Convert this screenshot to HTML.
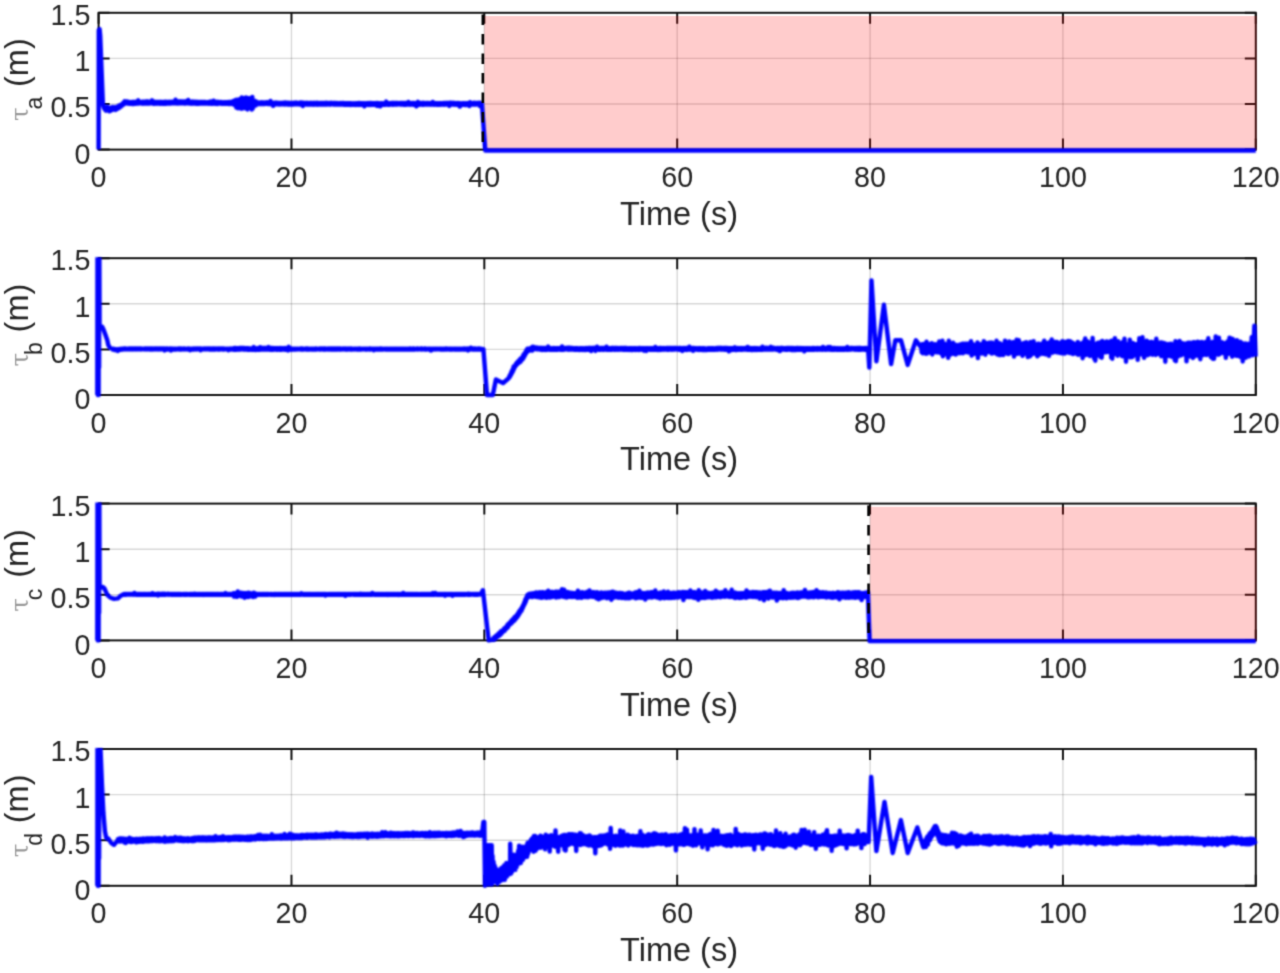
<!DOCTYPE html><html><head><meta charset="utf-8"><style>html,body{margin:0;padding:0;background:#fff;}svg{display:block}text{font-family:"Liberation Sans",Arial,sans-serif;fill:#262626}</style></head><body>
<svg width="1280" height="973" viewBox="0 0 1280 973">
<defs><filter id="bl" color-interpolation-filters="sRGB" filterUnits="userSpaceOnUse" x="0" y="0" width="1280" height="973"><feConvolveMatrix order="3" kernelMatrix="1 4 1 4 16 4 1 4 1" divisor="36" edgeMode="duplicate"/></filter><filter id="bd" color-interpolation-filters="sRGB" filterUnits="userSpaceOnUse" x="0" y="0" width="1280" height="973"><feConvolveMatrix order="3" kernelMatrix="1 2 1 2 4 2 1 2 1" divisor="16" edgeMode="duplicate"/></filter></defs>
<rect width="1280" height="973" fill="#fff"/>
<g filter="url(#bl)">
<path d="M291.47 12.80V149.60M484.33 12.80V149.60M677.20 12.80V149.60M870.07 12.80V149.60M1062.93 12.80V149.60" stroke="#262626" stroke-opacity="0.18" stroke-width="1.4" fill="none"/>
<path d="M98.60 104.00H1255.80M98.60 58.40H1255.80" stroke="#262626" stroke-opacity="0.18" stroke-width="1.4" fill="none"/>
<path d="M98.60 149.60v-11.0M98.60 12.80v11.0M291.47 149.60v-11.0M291.47 12.80v11.0M484.33 149.60v-11.0M484.33 12.80v11.0M677.20 149.60v-11.0M677.20 12.80v11.0M870.07 149.60v-11.0M870.07 12.80v11.0M1062.93 149.60v-11.0M1062.93 12.80v11.0M1255.80 149.60v-11.0M1255.80 12.80v11.0M98.60 149.60h11.0M1255.80 149.60h-11.0M98.60 104.00h11.0M1255.80 104.00h-11.0M98.60 58.40h11.0M1255.80 58.40h-11.0M98.60 12.80h11.0M1255.80 12.80h-11.0" stroke="#141414" stroke-width="2" fill="none"/>
<rect x="98.60" y="12.80" width="1157.20" height="136.80" stroke="#141414" stroke-width="2" fill="none"/>
<rect x="484.43" y="16.00" width="772.37" height="134.60" fill="#ff0000" fill-opacity="0.2"/>
<clipPath id="c0"><rect x="93.60" y="11.80" width="1164.20" height="141.80"/></clipPath>
<g filter="url(#bd)"><g clip-path="url(#c0)"><path d="M98.6 149.6L98.8 30.1L99.6 29.2L100.2 35.6L102.9 104.0L103.4 106.7L103.4 105.4L104.0 108.2L104.5 106.7L105.0 109.5L105.5 108.0L106.1 110.7L106.6 106.6L107.1 108.6L107.7 106.6L108.2 109.7L108.7 108.4L109.3 111.3L109.8 108.6L110.3 110.8L110.8 108.1L111.4 110.1L111.9 107.3L112.4 109.9L113.0 107.1L113.5 109.6L114.0 107.6L114.6 109.5L115.1 107.3L115.6 109.9L116.2 107.1L116.7 109.3L117.2 106.9L117.7 108.7L118.3 106.1L118.8 108.2L119.3 105.6L119.9 107.4L120.4 104.9L120.9 106.6L121.5 104.4L122.0 105.6L122.5 103.5L123.0 104.9L123.6 102.6L124.1 104.1L124.6 101.3L125.2 103.3L125.6 102.2L125.6 101.4L126.1 103.0L126.7 101.4L127.2 103.4L127.7 101.6L128.3 103.5L128.8 101.9L129.3 103.7L129.8 102.2L130.4 103.8L130.9 102.4L131.4 103.8L132.0 102.0L132.5 104.0L133.0 102.0L133.6 103.9L134.1 102.1L134.6 103.6L135.1 102.0L135.7 103.7L136.2 101.7L136.7 103.6L137.3 101.8L137.8 103.4L138.3 100.3L138.9 103.4L139.4 101.9L139.9 103.2L140.5 102.0L141.0 103.3L141.5 102.0L142.0 103.5L142.6 101.8L143.1 103.7L143.6 101.7L144.2 103.5L144.7 101.9L145.2 103.5L145.8 101.6L146.3 103.6L146.8 101.5L147.3 103.6L147.9 101.6L148.4 103.6L148.9 101.7L149.5 103.4L150.0 102.0L150.5 103.3L151.1 102.0L151.6 103.3L152.1 100.3L152.7 103.5L153.2 101.8L153.7 103.8L154.2 101.7L154.8 103.7L155.3 101.9L155.8 103.6L156.4 102.0L156.9 103.7L157.4 101.9L158.0 103.5L158.5 102.1L159.0 103.5L159.5 101.9L160.1 103.8L160.6 102.1L161.1 103.5L161.7 101.9L162.2 103.8L162.7 102.0L163.3 103.7L163.8 101.9L164.3 103.8L164.8 101.9L165.4 103.8L165.9 101.8L166.4 103.7L167.0 102.1L167.5 103.5L168.0 101.9L168.6 103.6L169.1 101.9L169.6 103.5L170.2 101.9L170.7 103.4L171.2 102.0L171.7 103.3L172.3 101.8L172.8 103.3L173.3 101.9L173.9 103.1L174.4 102.0L174.9 103.1L175.5 99.7L176.0 103.2L176.5 101.5L177.0 103.5L177.6 101.3L178.1 103.3L178.6 101.5L179.2 103.4L179.7 101.4L180.2 103.2L180.8 101.6L181.3 103.3L181.8 101.5L182.4 103.3L182.9 101.6L183.4 103.3L183.9 101.5L184.5 103.4L185.0 101.5L185.5 103.4L186.1 101.6L186.6 103.3L187.1 101.6L187.7 103.3L188.2 99.9L188.7 103.4L189.2 101.6L189.8 103.5L190.3 101.8L190.8 103.5L191.4 101.7L191.9 103.7L192.4 101.6L193.0 103.5L193.5 101.8L194.0 103.5L194.6 101.8L195.1 103.6L195.6 101.8L196.1 103.7L196.7 101.9L197.2 103.7L197.7 102.1L198.3 103.6L198.8 102.0L199.3 103.7L199.9 102.0L200.4 103.6L200.9 102.0L201.4 103.6L202.0 102.1L202.5 103.5L203.0 102.0L203.6 103.6L204.1 102.1L204.6 103.5L205.2 102.1L205.7 103.6L206.2 102.3L206.7 103.4L207.3 102.3L207.8 103.6L208.3 102.1L208.9 103.6L209.4 102.0L209.9 103.6L210.5 101.6L211.0 103.8L211.5 101.7L212.1 103.8L212.6 101.9L213.1 103.7L213.6 100.6L214.2 103.5L214.7 102.0L215.2 103.8L215.8 101.9L216.3 103.8L216.8 101.9L217.4 103.9L217.9 101.9L218.4 103.7L218.9 102.0L219.5 103.6L220.0 102.3L220.5 103.6L221.1 102.1L221.6 103.8L222.1 102.3L222.7 103.6L223.2 102.2L223.7 103.8L224.3 102.4L224.8 103.6L225.3 102.2L225.8 103.7L226.4 102.2L226.9 103.7L227.4 102.3L228.0 103.7L228.5 102.0L229.0 104.0L229.6 102.0L230.1 103.9L230.6 102.0L231.1 103.8L231.7 102.1L232.2 103.9L232.7 102.1L233.3 103.7L233.6 102.9L233.6 100.9L234.1 104.7L234.7 100.8L235.2 104.3L235.7 99.9L236.3 107.5L236.8 99.8L237.3 105.9L237.5 100.1L238.0 108.3L238.5 100.2L239.1 107.8L239.6 99.3L240.1 107.9L240.6 98.6L241.2 108.7L241.7 97.5L242.2 108.6L242.8 97.9L243.3 108.1L243.8 98.2L244.4 108.1L244.9 97.9L245.4 108.3L246.0 97.5L246.5 107.5L247.0 98.2L247.5 109.5L248.1 98.2L248.6 107.6L249.1 98.2L249.7 106.4L250.2 99.8L250.7 106.5L251.3 98.1L251.8 109.6L252.3 96.9L252.8 108.5L252.9 103.3L252.9 101.7L253.4 105.6L254.0 101.5L254.5 105.6L255.0 100.9L255.5 105.6L256.1 101.5L256.6 104.8L256.8 102.6L257.3 104.1L257.8 102.5L258.3 104.1L258.9 102.5L259.4 104.0L259.9 102.6L260.5 104.0L261.0 102.4L261.5 103.9L262.1 102.5L262.6 103.9L263.1 102.6L263.6 103.9L264.2 102.5L264.7 103.9L265.2 102.5L265.8 103.8L266.3 102.6L266.8 103.7L267.4 102.3L267.9 104.0L268.4 102.4L268.9 104.0L269.5 102.5L270.0 104.1L270.5 100.9L271.1 104.2L271.6 102.5L272.1 104.1L272.7 102.8L273.2 105.9L273.7 102.8L274.3 104.3L274.8 102.7L275.3 104.2L275.8 102.7L276.4 104.1L276.9 102.7L277.4 104.3L278.0 102.7L278.5 104.3L279.0 102.9L279.6 104.4L280.1 103.0L280.6 104.3L281.1 102.9L281.7 104.3L282.2 102.9L282.7 104.2L283.3 103.0L283.8 104.2L284.3 102.8L284.9 104.4L285.4 102.6L285.9 104.3L286.5 102.8L287.0 104.3L287.5 102.8L288.0 104.6L288.6 102.8L289.1 104.4L289.6 103.0L290.2 104.5L290.7 102.9L291.2 104.5L291.8 103.0L292.3 104.4L292.8 102.9L293.3 104.4L293.9 102.9L294.4 104.3L294.9 102.7L295.5 104.2L296.0 102.7L296.5 104.2L297.1 102.8L297.6 104.2L298.1 102.9L298.7 104.3L299.2 102.9L299.7 104.4L300.2 102.6L300.8 104.4L301.3 102.6L301.8 104.2L302.4 102.8L302.9 106.0L303.4 102.7L304.0 104.2L304.5 102.9L305.0 104.3L305.5 102.9L306.1 104.4L306.6 102.9L307.1 104.5L307.7 102.9L308.2 104.5L308.7 103.0L309.3 104.5L309.8 102.9L310.3 104.5L310.8 102.9L311.4 104.5L311.9 103.0L312.4 104.6L313.0 102.9L313.5 104.7L314.0 102.9L314.6 104.6L315.1 103.0L315.6 104.4L316.2 103.1L316.7 104.6L317.2 102.8L317.7 104.7L318.3 103.0L318.8 104.6L319.3 103.0L319.9 104.5L320.4 103.1L320.9 104.4L321.5 103.1L322.0 104.5L322.5 103.1L323.0 104.4L323.6 103.1L324.1 104.5L324.6 102.9L325.2 104.5L325.7 102.9L326.2 104.4L326.8 102.9L327.3 104.4L327.8 103.2L328.4 104.2L328.9 103.0L329.4 104.4L329.9 102.9L330.5 104.4L331.0 102.9L331.5 104.3L332.1 103.1L332.6 104.3L333.1 103.1L333.7 104.5L334.2 102.9L334.7 104.6L335.2 103.0L335.8 104.6L336.3 103.0L336.8 104.6L337.4 103.0L337.9 104.6L338.4 103.2L339.0 104.5L339.5 103.2L340.0 104.6L340.6 103.1L341.1 104.5L341.6 103.2L342.1 104.5L342.7 103.1L343.2 104.6L343.7 103.0L344.3 104.8L344.8 103.2L345.3 104.7L345.9 103.2L346.4 104.7L346.9 103.2L347.4 104.7L348.0 103.3L348.5 104.7L349.0 103.2L349.6 104.8L350.1 103.2L350.6 104.9L351.2 103.4L351.7 104.7L352.2 103.4L352.8 104.7L353.3 103.3L353.8 104.8L354.3 103.4L354.9 104.8L355.4 103.3L355.9 104.9L356.5 103.3L357.0 104.8L357.5 103.3L358.1 104.8L358.6 103.1L359.1 104.9L359.6 103.1L360.2 104.8L360.7 103.3L361.2 104.8L361.8 103.3L362.3 104.7L362.8 103.3L363.4 104.7L363.9 103.3L364.4 106.3L364.9 103.3L365.5 104.7L366.0 103.3L366.5 104.8L367.1 103.2L367.6 104.8L368.1 103.1L368.7 104.9L369.2 103.2L369.7 104.7L370.3 103.1L370.8 104.9L371.3 103.1L371.8 104.8L372.4 103.3L372.9 104.7L373.4 103.2L374.0 104.7L374.5 103.2L375.0 104.7L375.6 103.2L376.1 104.7L376.6 103.0L377.1 105.9L377.7 103.1L378.2 105.9L378.7 103.3L379.3 104.6L379.8 103.3L380.3 106.3L380.9 103.4L381.4 104.5L381.9 103.4L382.5 104.6L383.0 103.3L383.5 104.7L384.0 103.4L384.6 104.6L385.1 103.2L385.6 104.7L386.2 101.6L386.7 104.6L387.2 103.2L387.8 104.7L388.3 103.2L388.8 104.7L389.3 103.2L389.9 104.6L390.4 103.3L390.9 104.5L391.5 103.1L392.0 104.6L392.5 102.9L393.1 104.7L393.6 103.0L394.1 104.6L394.7 103.1L395.2 104.5L395.7 103.1L396.2 104.4L396.8 103.0L397.3 104.4L397.8 103.1L398.4 104.3L398.9 103.2L399.4 104.3L400.0 103.1L400.5 104.6L401.0 103.0L401.5 104.5L402.1 103.1L402.6 104.6L403.1 103.1L403.7 104.6L404.2 103.1L404.7 104.7L405.3 103.0L405.8 104.8L406.3 103.1L406.8 104.6L407.4 103.3L407.9 104.5L408.4 102.0L409.0 104.4L409.5 103.4L410.0 104.6L410.6 103.2L411.1 104.6L411.6 103.0L412.2 104.6L412.7 103.0L413.2 104.7L413.7 103.0L414.3 104.8L414.8 103.0L415.3 104.6L415.9 103.3L416.4 106.3L416.9 103.3L417.5 104.7L418.0 101.8L418.5 104.7L419.0 103.1L419.6 104.6L420.1 103.2L420.6 104.5L421.2 103.1L421.7 104.6L422.2 102.9L422.8 104.7L423.3 102.9L423.8 104.7L424.4 103.1L424.9 104.6L425.4 103.3L425.9 104.4L426.5 103.1L427.0 104.5L427.5 103.1L428.1 104.5L428.6 103.0L429.1 104.6L429.7 103.2L430.2 104.5L430.7 103.1L431.2 104.7L431.8 103.2L432.3 104.6L432.8 101.9L433.4 104.6L433.9 103.3L434.4 104.7L435.0 103.3L435.5 104.6L436.0 103.3L436.6 104.6L437.1 103.3L437.6 104.7L438.1 103.3L438.7 104.8L439.2 103.2L439.7 104.8L440.3 103.3L440.8 104.5L441.3 103.2L441.9 104.6L442.4 103.2L442.9 104.5L443.4 103.1L444.0 104.6L444.5 103.0L445.0 104.6L445.6 103.1L446.1 104.5L446.6 102.9L447.2 104.4L447.7 103.1L448.2 104.3L448.7 102.9L449.3 105.9L449.8 102.7L450.3 104.7L450.9 102.8L451.4 104.5L451.9 102.9L452.5 104.5L453.0 102.9L453.5 104.5L454.1 103.1L454.6 104.7L455.1 103.0L455.6 104.6L456.2 103.3L456.7 104.7L457.2 103.1L457.8 104.9L458.3 103.1L458.8 104.9L459.4 103.3L459.9 106.6L460.4 103.4L460.9 105.0L461.5 103.4L462.0 105.0L462.5 103.3L463.1 104.8L463.6 103.5L464.1 104.7L464.7 103.4L465.2 104.9L465.7 103.3L466.3 104.9L466.8 103.2L467.3 104.8L467.8 103.3L468.4 104.7L468.9 103.4L469.4 106.0L470.0 102.1L470.5 104.7L471.0 103.3L471.6 104.5L472.1 103.2L472.6 104.5L473.1 103.0L473.7 104.5L474.2 102.8L474.7 104.4L475.3 103.0L475.8 104.4L476.3 102.9L476.9 104.5L477.4 103.0L477.9 104.3L478.5 103.0L479.0 104.3L479.5 102.8L480.0 106.1L480.6 102.8L481.1 104.4L481.9 103.8L485.3 150.5L1255.8 150.5" stroke="#0000ff" stroke-width="4.4" fill="none" stroke-linejoin="round" stroke-linecap="butt"/></g></g>
<path d="M482.83 14.60V149.60" stroke="#000" stroke-width="2.6" stroke-dasharray="10.5 9" fill="none"/>
<text x="98.60" y="187.10" font-size="28.7" text-anchor="middle">0</text>
<text x="291.47" y="187.10" font-size="28.7" text-anchor="middle">20</text>
<text x="484.33" y="187.10" font-size="28.7" text-anchor="middle">40</text>
<text x="677.20" y="187.10" font-size="28.7" text-anchor="middle">60</text>
<text x="870.07" y="187.10" font-size="28.7" text-anchor="middle">80</text>
<text x="1062.93" y="187.10" font-size="28.7" text-anchor="middle">100</text>
<text x="1255.80" y="187.10" font-size="28.7" text-anchor="middle">120</text>
<text x="90.5" y="163.70" font-size="28.7" text-anchor="end">0</text>
<text x="90.5" y="117.40" font-size="28.7" text-anchor="end">0.5</text>
<text x="90.5" y="71.30" font-size="28.7" text-anchor="end">1</text>
<text x="90.5" y="25.00" font-size="28.7" text-anchor="end">1.5</text>
<text x="679.00" y="225.00" font-size="32.5" text-anchor="middle">Time (s)</text>
<g transform="translate(27.5 125.00) rotate(-90)"><text x="4" y="0" font-size="25" style="font-family:'DejaVu Serif',serif;fill:#999">&#964;</text><text x="15.5" y="14.4" font-size="23">a</text><text x="38" y="0" font-size="32.5">(m)</text></g>
<path d="M291.47 258.20V395.00M484.33 258.20V395.00M677.20 258.20V395.00M870.07 258.20V395.00M1062.93 258.20V395.00" stroke="#262626" stroke-opacity="0.18" stroke-width="1.4" fill="none"/>
<path d="M98.60 349.40H1255.80M98.60 303.80H1255.80" stroke="#262626" stroke-opacity="0.18" stroke-width="1.4" fill="none"/>
<path d="M98.60 395.00v-11.0M98.60 258.20v11.0M291.47 395.00v-11.0M291.47 258.20v11.0M484.33 395.00v-11.0M484.33 258.20v11.0M677.20 395.00v-11.0M677.20 258.20v11.0M870.07 395.00v-11.0M870.07 258.20v11.0M1062.93 395.00v-11.0M1062.93 258.20v11.0M1255.80 395.00v-11.0M1255.80 258.20v11.0M98.60 395.00h11.0M1255.80 395.00h-11.0M98.60 349.40h11.0M1255.80 349.40h-11.0M98.60 303.80h11.0M1255.80 303.80h-11.0M98.60 258.20h11.0M1255.80 258.20h-11.0" stroke="#141414" stroke-width="2" fill="none"/>
<rect x="98.60" y="258.20" width="1157.20" height="136.80" stroke="#141414" stroke-width="2" fill="none"/>
<clipPath id="c1"><rect x="93.60" y="257.20" width="1164.20" height="141.80"/></clipPath>
<g filter="url(#bd)"><g clip-path="url(#c1)"><path d="M97.3 395.0L97.5 230.8L97.9 395.0L98.2 230.8L98.6 395.0L98.9 230.8L99.1 367.6L99.3 230.8L99.6 325.7L102.0 326.6L103.4 329.3L105.4 334.8L107.3 340.3L108.2 344.8L109.7 347.6L112.1 348.9L112.1 348.8L112.6 349.4L113.2 348.9L113.7 349.7L114.2 349.1L114.8 349.9L115.3 349.4L115.8 350.2L116.3 349.5L116.9 350.0L117.4 349.4L117.9 350.9L118.5 349.3L119.0 349.8L119.5 349.1L120.1 349.7L120.6 349.0L121.1 349.6L121.6 348.9L122.2 349.4L122.7 348.8L123.2 349.3L123.8 348.7L124.3 349.2L124.8 348.7L125.4 349.3L125.9 348.7L126.4 349.2L127.0 348.8L127.5 349.2L128.0 348.8L128.5 349.3L129.1 348.7L129.6 349.2L130.1 348.7L130.7 349.3L131.2 348.6L131.7 349.3L132.3 348.6L132.8 349.4L133.3 348.6L133.8 349.3L134.4 348.7L134.9 349.2L135.4 348.7L136.0 349.3L136.5 348.6L137.0 349.3L137.6 348.7L138.1 349.2L138.6 348.7L139.2 349.2L139.7 348.6L140.2 349.2L140.7 348.5L141.3 349.3L141.8 348.7L142.3 349.1L142.9 348.7L143.4 349.2L143.9 348.7L144.5 349.2L145.0 348.7L145.5 349.2L146.0 348.7L146.6 349.3L147.1 348.6L147.6 349.3L148.2 348.6L148.7 349.3L149.2 348.7L149.8 349.3L150.3 348.7L150.8 349.3L151.3 348.7L151.9 349.3L152.4 348.7L152.9 349.3L153.5 348.8L154.0 349.2L154.5 348.7L155.1 349.3L155.6 348.6L156.1 349.3L156.7 348.6L157.2 349.3L157.7 348.7L158.2 349.3L158.8 348.7L159.3 349.2L159.8 348.7L160.4 349.3L160.9 348.6L161.4 349.3L162.0 348.6L162.5 349.3L163.0 348.6L163.5 349.3L164.1 348.6L164.6 350.4L165.1 348.7L165.7 349.3L166.2 348.7L166.7 349.4L167.3 348.7L167.8 349.4L168.3 348.8L168.9 349.3L169.4 348.8L169.9 349.3L170.4 348.7L171.0 350.4L171.5 348.7L172.0 349.4L172.6 348.8L173.1 349.4L173.6 348.8L174.2 349.4L174.7 348.8L175.2 349.4L175.7 348.7L176.3 349.4L176.8 348.8L177.3 349.3L177.9 348.8L178.4 349.3L178.9 348.7L179.5 349.3L180.0 348.7L180.5 349.3L181.1 348.7L181.6 349.3L182.1 348.8L182.6 349.3L183.2 348.8L183.7 349.3L184.2 348.7L184.8 349.3L185.3 348.8L185.8 349.3L186.4 348.8L186.9 349.3L187.4 348.8L187.9 349.3L188.5 348.7L189.0 349.4L189.5 348.7L190.1 350.2L190.6 348.8L191.1 349.3L191.7 348.8L192.2 349.4L192.7 348.7L193.2 349.3L193.8 348.7L194.3 349.3L194.8 348.8L195.4 349.2L195.9 348.7L196.4 349.3L197.0 348.6L197.5 349.2L198.0 348.6L198.6 349.2L199.1 348.6L199.6 349.2L200.1 348.7L200.7 350.3L201.2 348.7L201.7 349.2L202.3 348.7L202.8 349.2L203.3 348.7L203.9 349.2L204.4 348.6L204.9 349.2L205.4 348.7L206.0 349.2L206.5 348.6L207.0 349.2L207.6 348.6L208.1 349.3L208.6 348.7L209.2 349.3L209.7 348.7L210.2 349.3L210.8 348.7L211.3 349.3L211.8 348.8L212.3 349.3L212.9 348.7L213.4 349.3L213.9 348.6L214.5 349.3L215.0 348.7L215.5 349.3L216.1 348.6L216.6 349.3L217.1 348.8L217.6 349.3L218.2 348.7L218.7 349.3L219.2 348.7L219.8 349.4L220.3 348.6L220.8 349.3L221.4 348.6L221.9 349.3L222.4 348.6L223.0 349.3L223.5 348.7L224.0 349.3L224.5 348.8L225.1 349.3L225.6 348.8L226.1 349.3L226.7 348.8L227.2 349.3L227.7 348.8L228.3 350.2L228.8 348.8L229.3 349.3L229.8 348.8L230.4 349.3L230.9 348.7L231.4 349.3L232.0 348.8L232.5 349.3L233.0 348.8L233.6 349.4L233.6 348.3L234.1 349.8L234.7 348.1L235.2 349.8L235.7 348.1L236.3 349.7L236.8 348.2L237.3 349.5L237.8 348.4L238.4 349.6L238.9 348.2L239.4 349.6L240.0 348.1L240.5 349.4L241.0 348.1L241.6 349.3L242.1 348.0L242.6 349.3L243.2 348.0L243.7 349.5L244.2 348.1L244.7 349.5L245.3 348.2L245.8 349.5L246.3 348.3L246.9 349.5L247.4 348.3L247.9 349.7L248.5 348.4L249.0 349.6L249.5 348.5L250.0 349.6L250.6 348.5L251.1 349.8L251.6 348.4L252.2 349.7L252.7 348.6L253.2 349.7L253.8 347.1L254.3 349.7L254.8 348.6L255.4 349.9L255.9 348.6L256.4 349.8L256.9 348.3L257.5 349.7L258.0 348.3L258.5 349.8L259.1 348.1L259.6 349.8L260.1 347.2L260.7 349.5L261.2 348.2L261.7 349.6L262.2 348.1L262.8 349.4L263.3 348.1L263.8 349.5L264.4 348.0L264.9 349.6L265.4 347.9L266.0 349.5L266.5 348.1L267.0 349.5L267.6 348.1L268.1 349.5L268.6 347.1L269.1 349.4L269.7 348.1L270.2 349.7L270.7 348.1L271.3 349.7L271.8 348.0L272.3 349.8L272.9 348.1L273.4 349.7L273.9 348.2L274.4 349.6L275.0 348.3L275.5 349.6L276.0 348.4L276.6 349.6L277.1 348.4L277.6 349.6L278.2 348.2L278.7 349.6L279.2 348.2L279.8 349.8L280.3 348.1L280.8 349.7L281.3 348.2L281.9 349.6L282.4 348.3L282.9 349.5L283.5 348.4L284.0 349.5L284.5 348.4L285.1 349.6L285.6 348.1L286.1 349.7L286.6 348.3L287.2 349.5L287.7 348.2L288.2 350.4L288.8 346.8L289.3 349.6L289.8 348.3L290.4 349.4L290.9 348.4L291.4 349.6L291.5 348.8L292.0 349.4L292.5 348.7L293.1 349.4L293.6 348.8L294.1 349.4L294.6 348.8L295.2 349.4L295.7 348.8L296.2 349.4L296.8 348.8L297.3 349.3L297.8 348.8L298.4 349.3L298.9 348.8L299.4 349.3L300.0 348.8L300.5 349.3L301.0 348.7L301.5 349.3L302.1 348.7L302.6 349.4L303.1 348.7L303.7 349.4L304.2 348.8L304.7 349.3L305.3 348.8L305.8 349.3L306.3 348.7L306.8 349.3L307.4 348.7L307.9 349.3L308.4 348.8L309.0 349.4L309.5 348.7L310.0 349.3L310.6 348.8L311.1 349.3L311.6 348.8L312.2 349.4L312.7 348.7L313.2 349.4L313.7 348.7L314.3 349.4L314.8 348.7L315.3 349.4L315.9 348.7L316.4 349.3L316.9 348.8L317.5 349.3L318.0 348.8L318.5 349.2L319.0 348.8L319.6 349.3L320.1 348.7L320.6 349.3L321.2 348.7L321.7 349.2L322.2 348.8L322.8 349.3L323.3 348.7L323.8 349.3L324.4 348.7L324.9 349.3L325.4 348.7L325.9 349.3L326.5 348.8L327.0 349.3L327.5 348.8L328.1 349.3L328.6 348.7L329.1 349.3L329.7 348.8L330.2 349.3L330.7 348.7L331.2 349.3L331.8 348.7L332.3 349.4L332.8 348.7L333.4 349.3L333.9 348.7L334.4 349.4L335.0 348.7L335.5 349.3L336.0 348.7L336.5 349.3L337.1 348.7L337.6 349.3L338.1 348.7L338.7 349.3L339.2 348.7L339.7 349.3L340.3 348.6L340.8 349.4L341.3 348.7L341.9 349.3L342.4 348.8L342.9 349.3L343.4 348.7L344.0 349.2L344.5 348.8L345.0 349.3L345.6 348.7L346.1 349.4L346.6 348.7L347.2 349.4L347.7 348.7L348.2 349.3L348.7 348.7L349.3 349.3L349.8 348.8L350.3 349.3L350.9 348.7L351.4 349.4L351.9 348.7L352.5 349.4L353.0 348.8L353.5 349.3L354.1 348.8L354.6 349.4L355.1 348.8L355.6 349.3L356.2 348.9L356.7 349.4L357.2 348.8L357.8 349.5L358.3 348.8L358.8 349.4L359.4 348.7L359.9 349.4L360.4 348.8L360.9 349.5L361.5 348.8L362.0 349.3L362.5 348.9L363.1 349.3L363.6 348.8L364.1 349.3L364.7 348.8L365.2 349.3L365.7 348.8L366.3 349.4L366.8 348.7L367.3 349.3L367.8 348.8L368.4 349.3L368.9 348.8L369.4 349.4L370.0 348.7L370.5 349.3L371.0 348.8L371.6 349.3L372.1 348.8L372.6 349.3L373.1 348.8L373.7 350.2L374.2 348.8L374.7 349.3L375.3 348.8L375.8 349.4L376.3 348.9L376.9 349.4L377.4 348.8L377.9 349.4L378.4 348.7L379.0 349.4L379.5 348.8L380.0 349.4L380.6 348.7L381.1 349.4L381.6 348.8L382.2 349.4L382.7 348.8L383.2 349.4L383.8 348.9L384.3 349.3L384.8 348.9L385.3 349.4L385.9 348.9L386.4 349.4L386.9 348.8L387.5 349.4L388.0 348.9L388.5 349.4L389.1 348.9L389.6 349.4L390.1 348.9L390.6 349.4L391.2 348.9L391.7 349.4L392.2 348.9L392.8 349.4L393.3 348.9L393.8 349.4L394.4 348.9L394.9 349.4L395.4 348.9L396.0 349.5L396.5 348.9L397.0 349.4L397.5 348.9L398.1 349.4L398.6 348.9L399.1 349.4L399.7 348.9L400.2 349.4L400.7 348.8L401.3 349.4L401.8 348.8L402.3 349.4L402.8 348.8L403.4 349.4L403.9 348.8L404.4 349.5L405.0 348.8L405.5 349.4L406.0 348.8L406.6 349.4L407.1 348.8L407.6 349.5L408.2 348.8L408.7 349.4L409.2 348.8L409.7 349.5L410.3 348.7L410.8 349.4L411.3 348.8L411.9 349.4L412.4 348.8L412.9 349.4L413.5 348.7L414.0 349.4L414.5 348.7L415.0 349.3L415.6 348.8L416.1 349.2L416.6 348.8L417.2 349.3L417.7 348.6L418.2 349.3L418.8 348.8L419.3 349.2L419.8 348.8L420.3 349.2L420.9 348.7L421.4 349.3L421.9 348.7L422.5 349.3L423.0 348.8L423.5 349.3L424.1 348.8L424.6 349.3L425.1 348.7L425.7 349.4L426.2 348.7L426.7 349.3L427.2 348.8L427.8 349.3L428.3 348.8L428.8 349.4L429.4 348.8L429.9 349.4L430.4 348.8L431.0 350.5L431.5 348.9L432.0 349.4L432.5 348.8L433.1 349.4L433.6 348.8L434.1 349.3L434.7 348.8L435.2 349.4L435.7 348.8L436.3 349.3L436.8 348.8L437.3 349.3L437.9 348.9L438.4 349.3L438.9 348.8L439.4 349.3L440.0 348.8L440.5 349.4L441.0 348.7L441.6 349.4L442.1 348.8L442.6 349.4L443.2 348.8L443.7 349.4L444.2 348.8L444.7 349.4L445.3 348.8L445.8 349.3L446.3 348.7L446.9 349.4L447.4 348.8L447.9 349.3L448.5 348.8L449.0 349.4L449.5 348.8L450.1 349.5L450.6 348.8L451.1 349.5L451.6 348.8L452.2 349.5L452.7 348.8L453.2 349.3L453.8 348.8L454.3 349.4L454.8 348.7L455.4 349.4L455.9 348.7L456.4 349.4L456.9 348.7L457.5 349.4L458.0 348.8L458.5 349.5L459.1 348.8L459.6 349.5L460.1 348.8L460.7 349.4L461.2 348.8L461.7 349.4L462.3 348.8L462.8 349.3L463.3 348.8L463.8 349.4L464.4 348.7L464.9 349.3L465.4 348.8L466.0 349.4L466.5 348.7L467.0 349.5L467.6 348.7L468.1 350.5L468.6 348.7L469.1 349.4L469.7 348.8L470.2 349.3L470.7 347.7L471.3 349.3L471.8 348.7L472.3 349.4L472.9 348.7L473.4 349.3L473.9 348.7L474.4 349.3L475.0 348.7L475.5 349.4L476.0 348.7L476.6 349.4L477.1 348.7L477.6 349.3L478.2 348.7L478.7 349.3L479.2 348.7L479.8 349.4L480.3 348.7L480.8 349.3L481.3 348.8L481.9 349.3L483.4 349.1L487.0 395.0L492.8 395.0L495.9 379.5L503.1 383.1L508.9 378.0L509.4 376.1L509.9 376.7L510.5 374.0L511.0 374.8L511.5 371.5L512.1 372.9L512.6 369.4L513.1 370.9L513.6 366.4L514.2 368.7L514.7 365.9L515.2 366.5L515.8 363.9L516.3 365.2L516.8 362.7L517.4 364.1L517.9 361.6L518.4 363.2L519.0 360.5L519.5 362.4L520.0 359.1L520.5 361.8L521.1 358.2L521.6 360.2L522.1 357.4L522.7 359.2L523.2 355.3L523.7 357.6L524.3 353.7L524.8 355.6L525.3 352.2L525.8 353.8L526.4 350.2L526.9 352.3L527.4 348.6L528.0 351.2L528.5 348.8L529.0 350.7L529.6 348.4L530.1 350.4L530.6 348.3L531.2 349.9L531.7 347.5L532.2 350.6L532.7 346.8L533.3 349.1L533.8 346.9L534.3 349.2L535.4 347.7L536.0 349.0L536.5 347.6L537.0 349.3L537.6 347.7L538.1 349.3L538.6 347.9L539.2 349.3L539.7 347.9L540.2 349.6L540.7 347.9L541.3 349.8L541.8 348.0L542.3 349.9L542.9 348.1L543.4 349.7L543.9 348.1L544.5 349.6L545.0 348.0L545.5 349.9L546.1 348.0L546.6 349.8L547.1 348.1L547.6 349.7L548.2 346.6L548.7 349.6L549.2 348.3L549.8 349.6L550.3 348.3L550.8 349.7L551.4 348.3L551.9 349.7L552.4 348.4L552.9 349.8L553.5 348.1L554.0 349.8L554.5 348.2L555.1 349.6L555.6 348.2L556.1 349.7L556.7 348.2L557.2 349.8L557.7 348.2L558.2 349.6L558.8 348.4L559.3 349.5L559.8 348.2L560.4 349.6L560.9 348.1L561.4 349.7L562.0 346.4L562.5 349.8L563.0 348.0L563.6 349.7L564.1 348.0L564.6 349.4L565.1 348.1L565.7 349.2L566.2 347.9L566.7 349.3L567.3 347.9L567.8 349.5L568.3 347.7L568.9 349.7L569.4 347.7L569.9 349.5L570.4 347.9L571.0 349.4L571.5 348.0L572.0 349.4L572.6 348.1L573.1 349.5L573.6 348.2L574.2 349.7L574.7 348.2L575.2 349.7L575.8 348.2L576.3 349.7L576.8 348.2L577.3 349.8L577.9 348.3L578.4 349.8L578.9 348.4L579.5 349.9L580.0 348.2L580.5 349.8L581.1 348.5L581.6 349.6L582.1 348.3L582.6 349.9L583.2 348.2L583.7 349.8L584.2 348.4L584.8 349.9L585.3 348.2L585.8 349.9L586.4 348.1L586.9 349.8L587.4 348.2L588.0 349.7L588.5 347.9L589.0 349.7L589.5 348.0L590.1 349.4L590.6 348.1L591.1 351.0L591.7 348.1L592.2 349.6L592.7 347.9L593.3 349.6L593.8 347.9L594.3 349.5L594.8 348.0L595.4 350.9L595.9 348.1L596.4 349.4L597.0 346.7L597.5 349.5L598.0 348.1L598.6 349.6L599.1 348.1L599.6 349.6L600.1 348.0L600.7 349.7L601.2 348.0L601.7 349.6L602.3 348.1L602.8 349.7L603.3 348.0L603.9 349.7L604.4 348.1L604.9 349.5L605.5 348.1L606.0 349.6L606.5 346.6L607.0 349.8L607.6 348.0L608.1 349.7L608.6 348.1L609.2 349.6L609.7 348.3L610.2 349.4L610.8 348.2L611.3 349.7L611.8 347.9L612.3 349.7L612.9 348.1L613.4 349.5L613.9 348.1L614.5 349.6L615.0 347.9L615.5 349.7L616.1 348.0L616.6 349.4L617.1 348.0L617.7 349.7L618.2 348.0L618.7 349.6L619.2 348.2L619.8 349.6L620.3 348.1L620.8 349.6L621.4 348.1L621.9 349.5L622.4 348.1L623.0 349.6L623.5 348.0L624.0 349.7L624.5 347.9L625.1 349.8L625.6 348.1L626.1 349.8L626.7 348.1L627.2 349.8L627.7 348.4L628.3 349.8L628.8 348.2L629.3 350.0L629.9 348.3L630.4 349.8L630.9 348.2L631.4 349.9L632.0 348.2L632.5 349.9L633.0 348.4L633.6 349.8L634.1 348.5L634.6 349.8L635.2 348.3L635.7 349.9L636.2 348.3L636.7 349.8L637.3 348.4L637.8 349.8L638.3 348.3L638.9 349.9L639.4 348.0L639.9 349.8L640.5 348.2L641.0 349.6L641.5 348.2L642.1 349.6L642.6 348.3L643.1 349.5L643.6 348.3L644.2 350.7L644.7 348.3L645.2 349.5L645.8 348.3L646.3 350.9L646.8 348.2L647.4 349.6L647.9 348.3L648.4 349.6L648.9 348.2L649.5 349.7L650.0 348.2L650.5 349.7L651.1 348.2L651.6 349.8L652.1 348.2L652.7 349.8L653.2 348.4L653.7 349.8L654.2 348.3L654.8 349.8L655.3 346.9L655.8 349.7L656.4 348.4L656.9 349.8L657.4 348.2L658.0 349.9L658.5 348.2L659.0 349.8L659.6 348.1L660.1 349.9L660.6 348.0L661.1 349.8L661.7 348.3L662.2 349.5L662.7 348.3L663.3 349.6L663.8 348.1L664.3 349.6L664.9 348.2L665.4 349.6L665.9 348.2L666.4 349.5L667.0 348.1L667.5 349.7L668.0 348.0L668.6 349.7L669.1 348.1L669.6 349.6L670.2 348.1L670.7 349.5L671.2 348.1L671.8 349.6L672.3 348.0L672.8 349.6L673.3 348.0L673.9 349.5L674.4 348.0L674.9 349.5L675.5 348.0L676.0 349.3L676.5 348.1L677.1 349.5L677.6 348.2L678.1 349.6L678.6 348.1L679.2 349.8L679.7 348.1L680.2 349.8L680.8 348.0L681.3 349.8L681.8 348.2L682.4 350.9L682.9 348.3L683.4 349.7L684.0 348.1L684.5 349.7L685.0 348.2L685.5 349.7L686.1 348.0L686.6 349.9L687.1 348.1L687.7 349.7L688.2 348.2L688.7 349.6L689.3 346.7L689.8 349.7L690.3 348.1L690.8 349.5L691.4 348.1L691.9 349.6L692.4 348.0L693.0 350.8L693.5 348.0L694.0 349.5L694.6 348.2L695.1 349.6L695.6 348.3L696.1 349.6L696.7 348.4L697.2 349.6L697.7 348.5L698.3 349.7L698.8 348.2L699.3 349.9L699.9 348.2L700.4 349.7L700.9 348.4L701.5 349.7L702.0 348.2L702.5 350.1L703.0 348.2L703.6 350.0L704.1 348.4L704.6 350.0L705.2 348.4L705.7 349.9L706.2 348.5L706.8 349.9L707.3 348.4L707.8 349.8L708.3 348.5L708.9 349.6L709.4 348.4L709.9 349.8L710.5 348.3L711.0 349.7L711.5 348.2L712.1 349.8L712.6 348.3L713.1 349.7L713.7 348.3L714.2 349.7L714.7 348.4L715.2 349.6L715.8 348.3L716.3 349.5L716.8 348.1L717.4 349.6L717.9 347.9L718.4 349.5L719.0 348.1L719.5 349.3L720.0 347.9L720.5 349.5L721.1 347.9L721.6 349.4L722.1 348.0L722.7 349.6L723.2 348.0L723.7 349.5L724.3 348.0L724.8 349.7L725.3 347.9L725.9 349.8L726.4 348.0L726.9 349.7L727.4 348.1L728.0 349.6L728.5 348.2L729.0 351.3L729.6 348.2L730.1 349.8L730.6 348.2L731.2 349.9L731.7 348.2L732.2 350.0L732.7 348.3L733.3 349.7L733.8 348.5L734.3 349.8L734.9 347.3L735.4 349.9L735.9 348.1L736.5 349.9L737.0 348.2L737.5 349.7L738.0 348.1L738.6 349.8L739.1 348.2L739.6 349.5L740.2 348.3L740.7 349.7L741.2 348.0L741.8 349.8L742.3 348.2L742.8 349.6L743.4 348.3L743.9 349.5L744.4 348.2L744.9 349.5L745.5 348.1L746.0 349.5L746.5 348.2L747.1 349.6L747.6 347.0L748.1 349.8L748.7 348.1L749.2 349.7L749.7 348.1L750.2 349.8L750.8 348.2L751.3 349.9L751.8 348.2L752.4 349.9L752.9 348.2L753.4 349.8L754.0 348.3L754.5 349.9L755.0 348.1L755.6 349.8L756.1 348.2L756.6 349.9L757.1 348.2L757.7 349.7L758.2 348.4L758.7 349.8L759.3 348.2L759.8 349.7L760.3 348.4L760.9 349.6L761.4 348.2L761.9 349.7L762.4 346.7L763.0 349.7L763.5 348.1L764.0 349.6L764.6 347.9L765.1 349.6L765.6 347.8L766.2 349.6L766.7 347.8L767.2 349.6L767.8 348.0L768.3 349.6L768.8 348.0L769.3 349.6L769.9 348.0L770.4 349.5L770.9 346.8L771.5 349.4L772.0 347.8L772.5 349.4L773.1 347.7L773.6 349.5L774.1 347.9L774.6 349.3L775.2 348.3L775.7 349.5L776.2 348.2L776.8 349.8L777.3 348.0L777.8 349.9L778.4 348.1L778.9 349.5L779.4 348.2L779.9 351.1L780.5 348.0L781.0 349.5L781.5 347.9L782.1 349.5L782.6 348.1L783.1 349.5L783.7 348.3L784.2 349.5L784.7 348.3L785.3 349.6L785.8 348.4L786.3 349.6L786.8 348.1L787.4 349.7L787.9 348.1L788.4 349.6L789.0 348.1L789.5 349.6L790.0 348.0L790.6 349.8L791.1 348.0L791.6 349.9L792.1 348.1L792.7 349.9L793.2 348.1L793.7 350.0L794.3 348.2L794.8 350.0L795.3 348.2L795.9 349.9L796.4 348.1L796.9 349.8L797.5 348.0L798.0 349.8L798.5 348.0L799.0 349.6L799.6 348.2L800.1 349.7L800.6 348.1L801.2 349.7L801.7 348.2L802.2 349.6L802.8 348.3L803.3 349.4L803.8 348.4L804.3 351.3L804.9 348.3L805.4 349.8L805.9 348.2L806.5 349.7L807.0 348.3L807.5 349.8L808.1 348.2L808.6 349.8L809.1 348.3L809.7 349.7L810.2 348.4L810.7 349.7L811.2 348.3L811.8 349.6L812.3 348.4L812.8 349.7L813.4 348.1L813.9 349.8L814.4 348.2L815.0 349.5L815.5 348.3L816.0 349.5L816.5 348.4L817.1 349.7L817.6 348.1L818.1 349.6L818.7 348.2L819.2 349.5L819.7 348.2L820.3 349.6L820.8 348.2L821.3 349.5L821.8 348.1L822.4 349.6L822.9 346.9L823.4 349.6L824.0 348.1L824.5 349.6L825.0 348.1L825.6 349.6L826.1 348.1L826.6 349.5L827.2 348.2L827.7 349.6L828.2 347.1L828.7 349.6L829.3 348.2L829.8 349.6L830.3 347.1L830.9 349.7L831.4 348.2L831.9 349.7L832.5 348.2L833.0 349.7L833.5 348.0L834.0 349.8L834.6 348.0L835.1 349.6L835.6 348.2L836.2 349.7L836.7 348.3L837.2 349.7L837.8 348.4L838.3 349.8L838.8 348.3L839.4 349.8L839.9 348.4L840.4 349.6L840.9 348.4L841.5 349.7L842.0 348.4L842.5 349.6L843.1 348.4L843.6 349.7L844.1 348.3L844.7 349.7L845.2 348.3L845.7 349.6L846.2 348.3L846.8 349.6L847.3 347.0L847.8 349.9L848.4 348.1L848.9 349.5L849.4 348.2L850.0 349.6L850.5 348.0L851.0 349.5L851.6 348.0L852.1 349.3L852.6 348.1L853.1 349.3L853.7 348.2L854.2 349.5L854.7 348.1L855.3 349.6L855.8 348.2L856.3 349.6L856.9 348.1L857.4 349.7L857.9 348.1L858.4 349.8L859.0 347.9L859.5 349.8L860.0 348.0L860.6 349.8L861.1 348.1L861.6 349.5L862.2 348.4L862.7 349.4L863.2 348.3L863.8 349.5L864.3 348.2L864.8 349.7L865.3 348.1L865.9 349.7L866.4 348.1L866.9 349.6L868.1 348.9L869.3 367.6L871.5 280.4L876.4 361.3L883.9 304.7L891.1 364.0L895.3 340.3L901.0 340.3L907.7 364.9L915.9 340.3L921.2 347.6L921.2 345.6L921.7 352.4L922.2 344.1L922.8 353.3L923.3 344.5L923.8 351.8L924.4 344.5L924.9 353.2L925.4 343.4L925.9 353.7L926.5 341.8L927.0 353.6L927.5 343.8L928.1 352.5L928.6 344.0L929.1 351.8L929.7 344.9L930.2 351.1L930.7 344.6L931.3 353.3L931.8 343.2L932.3 354.5L932.8 344.5L933.4 351.2L933.9 344.9L934.4 352.1L935.0 344.3L935.5 351.4L936.0 345.0L936.6 352.3L937.1 344.1L937.6 352.3L938.1 345.3L938.7 352.3L939.2 341.5L939.7 352.7L940.3 346.0L940.8 352.5L941.3 344.9L941.9 354.1L942.4 340.6L942.9 356.4L943.5 345.0L944.0 353.3L944.5 343.8L945.0 353.6L945.6 344.7L946.1 354.4L946.6 344.4L947.2 354.3L947.7 344.5L948.2 357.8L948.8 340.7L949.3 353.7L949.8 344.8L950.3 354.7L950.9 344.2L951.4 354.0L951.9 345.0L952.5 353.3L953.0 342.6L953.5 353.7L954.1 346.1L954.6 352.8L955.1 344.7L955.7 354.6L956.2 345.0L956.7 353.8L957.2 346.2L957.8 352.4L958.3 346.1L958.8 352.3L959.4 344.7L959.9 353.2L960.4 344.4L961.0 352.3L961.5 345.2L962.0 353.1L962.5 343.8L963.1 353.2L963.6 343.8L964.1 352.4L964.7 344.3L965.2 351.8L965.7 343.7L966.3 352.0L966.8 343.6L967.3 352.2L967.9 344.1L968.4 352.5L968.9 343.4L969.4 352.0L970.0 343.0L970.5 352.2L971.0 341.3L971.6 355.6L972.1 343.7L972.6 354.0L973.2 344.5L973.7 354.0L974.2 344.9L974.7 352.6L975.3 346.2L975.8 352.8L976.3 345.3L976.9 354.3L977.4 342.5L977.9 358.1L978.5 343.8L979.0 354.1L979.5 344.8L980.0 352.4L980.6 344.6L981.1 353.2L981.6 344.1L982.2 353.5L982.7 344.2L983.2 353.0L983.8 341.2L984.3 352.8L984.8 343.9L985.4 354.7L985.9 343.0L986.4 352.4L986.9 343.5L987.5 351.1L988.0 343.8L988.5 351.5L989.1 342.8L989.6 352.2L990.1 342.6L990.7 351.5L991.2 343.0L991.7 353.6L992.2 342.6L992.8 353.3L993.3 344.5L993.8 352.7L994.4 343.9L994.9 352.7L995.4 344.4L996.0 352.6L996.5 340.8L997.0 354.4L997.6 343.9L998.1 354.1L998.6 344.4L999.1 355.1L999.7 343.2L1000.2 355.1L1000.7 345.1L1001.3 353.9L1001.8 345.1L1002.3 354.7L1002.9 344.3L1003.4 355.0L1003.9 345.1L1004.4 353.0L1005.0 340.6L1005.5 353.1L1006.0 343.8L1006.6 353.4L1007.1 343.6L1007.6 353.8L1008.2 344.0L1008.7 354.0L1009.2 341.4L1009.8 352.0L1010.3 343.9L1010.8 352.6L1011.3 342.9L1011.9 352.6L1012.4 342.5L1012.9 353.5L1013.5 342.1L1014.0 356.6L1014.5 342.2L1015.1 354.0L1015.6 342.6L1016.1 353.7L1016.6 339.8L1017.2 353.9L1017.7 343.0L1018.2 353.1L1018.8 340.1L1019.3 353.5L1019.8 343.0L1020.4 353.3L1020.9 344.6L1021.4 352.3L1021.9 343.7L1022.5 355.9L1023.0 344.1L1023.5 354.1L1024.1 343.0L1024.6 353.8L1025.1 344.6L1025.7 352.5L1026.2 342.3L1026.7 352.5L1027.3 343.7L1027.8 357.1L1028.3 344.0L1028.8 353.6L1029.4 345.0L1029.9 356.4L1030.4 341.9L1031.0 355.1L1031.5 343.4L1032.0 354.1L1032.6 344.9L1033.1 353.2L1033.6 341.1L1034.1 352.9L1034.7 344.9L1035.2 353.8L1035.7 344.4L1036.3 353.8L1036.8 344.4L1037.3 356.4L1037.9 343.7L1038.4 354.9L1038.9 343.7L1039.5 354.6L1040.0 344.3L1040.5 353.9L1041.0 344.9L1041.6 353.4L1042.1 344.7L1042.6 353.7L1043.2 342.7L1043.7 353.7L1044.2 340.6L1044.8 352.6L1045.3 344.0L1045.8 354.5L1046.3 343.3L1046.9 352.9L1047.4 342.9L1047.9 351.9L1048.5 343.7L1049.0 355.8L1049.5 342.5L1050.1 351.6L1050.6 341.4L1051.1 351.9L1051.7 339.5L1052.2 352.9L1052.7 341.2L1053.2 352.3L1053.8 341.7L1054.3 351.7L1054.8 342.1L1055.4 351.0L1055.9 342.0L1056.4 352.2L1057.0 341.9L1057.5 352.1L1058.0 342.8L1058.5 352.6L1059.1 343.3L1059.6 352.8L1060.1 343.0L1060.7 352.9L1061.2 343.4L1061.7 353.4L1062.3 341.3L1062.8 353.4L1062.9 343.7L1063.5 353.3L1064.0 341.7L1064.5 353.6L1065.1 342.8L1065.6 352.2L1066.1 341.9L1066.6 352.6L1067.2 342.0L1067.7 352.4L1068.2 340.9L1068.8 352.7L1069.3 341.2L1069.8 353.0L1070.4 341.5L1070.9 352.5L1071.4 343.6L1071.9 353.5L1072.5 342.6L1073.0 354.1L1073.5 343.5L1074.1 353.5L1074.6 344.2L1075.1 352.1L1075.7 344.3L1076.2 352.6L1076.7 343.7L1077.3 354.4L1077.8 341.9L1078.3 354.9L1078.8 343.2L1079.4 354.0L1079.9 343.7L1080.4 353.4L1081.0 344.6L1081.5 354.4L1082.0 343.3L1082.6 358.2L1083.1 342.6L1083.6 355.3L1084.1 341.3L1084.7 355.4L1085.2 338.5L1085.7 353.9L1086.3 342.5L1086.8 354.8L1087.3 341.3L1087.9 354.0L1088.4 343.3L1088.9 355.0L1089.5 342.5L1090.0 356.1L1090.5 342.8L1091.0 355.2L1091.6 343.1L1092.1 354.1L1092.6 338.0L1093.2 355.5L1093.7 343.6L1094.2 358.8L1094.8 344.4L1095.3 360.7L1095.8 345.0L1096.3 355.2L1096.9 343.4L1097.4 355.5L1097.9 342.6L1098.5 354.4L1099.0 342.7L1099.5 353.0L1100.1 343.3L1100.6 357.1L1101.1 342.0L1101.7 357.7L1102.2 340.9L1102.7 353.2L1103.2 342.5L1103.8 351.2L1104.3 342.6L1104.8 351.2L1105.4 342.5L1105.9 352.4L1106.4 341.4L1107.0 352.1L1107.5 341.8L1108.0 351.6L1108.5 342.3L1109.1 351.5L1109.6 342.6L1110.1 352.3L1110.7 341.3L1111.2 357.6L1111.7 340.7L1112.3 358.7L1112.8 342.5L1113.3 353.9L1113.9 341.2L1114.4 354.2L1114.9 338.1L1115.4 352.2L1116.0 342.6L1116.5 354.4L1117.0 341.5L1117.6 355.7L1118.1 341.3L1118.6 354.1L1119.2 343.2L1119.7 353.3L1120.2 344.3L1120.7 354.3L1121.3 343.2L1121.8 356.0L1122.3 342.2L1122.9 356.3L1123.4 343.5L1123.9 356.1L1124.5 338.6L1125.0 355.7L1125.5 344.5L1126.0 361.7L1126.6 344.3L1127.1 356.1L1127.6 346.0L1128.2 355.9L1128.7 346.0L1129.2 356.7L1129.8 339.8L1130.3 357.4L1130.8 344.2L1131.4 356.2L1131.9 345.3L1132.4 357.0L1132.9 343.0L1133.5 355.9L1134.0 344.6L1134.5 355.0L1135.1 344.3L1135.6 354.2L1136.1 345.2L1136.7 353.8L1137.2 343.9L1137.7 359.9L1138.2 344.3L1138.8 353.9L1139.3 338.3L1139.8 354.2L1140.4 343.0L1140.9 354.5L1141.4 342.4L1142.0 354.3L1142.5 337.2L1143.0 354.5L1143.6 342.5L1144.1 357.9L1144.6 342.4L1145.1 352.2L1145.7 342.8L1146.2 355.0L1146.7 340.8L1147.3 355.4L1147.8 341.7L1148.3 354.9L1148.9 342.3L1149.4 353.5L1149.9 343.2L1150.4 353.1L1151.0 342.0L1151.5 354.3L1152.0 342.0L1152.6 354.7L1153.1 342.8L1153.6 354.4L1154.2 342.8L1154.7 354.2L1155.2 342.2L1155.8 355.0L1156.3 338.7L1156.8 354.1L1157.3 344.6L1157.9 352.9L1158.4 343.9L1158.9 354.0L1159.5 342.8L1160.0 353.9L1160.5 342.8L1161.1 356.2L1161.6 342.4L1162.1 355.5L1162.6 343.0L1163.2 356.4L1163.7 342.9L1164.2 356.4L1164.8 344.3L1165.3 361.7L1165.8 343.8L1166.4 356.3L1166.9 345.7L1167.4 354.6L1167.9 346.1L1168.5 355.9L1169.0 344.0L1169.5 356.0L1170.1 344.1L1170.6 356.1L1171.1 343.7L1171.7 356.7L1172.2 345.6L1172.7 355.6L1173.3 345.4L1173.8 355.5L1174.3 345.4L1174.8 360.4L1175.4 341.2L1175.9 361.2L1176.4 343.8L1177.0 356.6L1177.5 342.1L1178.0 356.6L1178.6 344.9L1179.1 354.4L1179.6 340.9L1180.1 355.3L1180.7 342.8L1181.2 355.3L1181.7 342.9L1182.3 354.4L1182.8 343.6L1183.3 353.7L1183.9 343.9L1184.4 354.5L1184.9 343.6L1185.5 354.7L1186.0 343.8L1186.5 361.4L1187.0 343.8L1187.6 355.3L1188.1 342.8L1188.6 355.7L1189.2 343.1L1189.7 356.5L1190.2 342.8L1190.8 355.2L1191.3 344.8L1191.8 353.6L1192.3 344.6L1192.9 358.0L1193.4 342.1L1193.9 357.0L1194.5 342.2L1195.0 355.5L1195.5 343.0L1196.1 355.3L1196.6 342.6L1197.1 355.7L1197.7 341.7L1198.2 354.0L1198.7 342.3L1199.2 353.6L1199.8 342.5L1200.3 359.2L1200.8 343.7L1201.4 354.0L1201.9 342.0L1202.4 355.4L1203.0 343.7L1203.5 353.2L1204.0 344.1L1204.5 353.5L1205.1 342.5L1205.6 354.8L1206.1 341.6L1206.7 355.0L1207.2 342.5L1207.7 354.5L1208.3 338.3L1208.8 353.3L1209.3 343.3L1209.8 353.9L1210.4 342.1L1210.9 357.2L1211.4 342.9L1212.0 352.9L1212.5 341.9L1213.0 358.9L1213.6 343.2L1214.1 358.8L1214.6 343.2L1215.2 354.6L1215.7 336.4L1216.2 353.9L1216.7 341.2L1217.3 353.8L1217.8 341.5L1218.3 354.7L1218.9 337.6L1219.4 354.4L1219.9 342.6L1220.5 351.8L1221.0 342.1L1221.5 353.1L1222.0 342.3L1222.6 352.9L1223.1 343.3L1223.6 353.2L1224.2 343.1L1224.7 353.3L1225.2 344.1L1225.8 357.9L1226.3 343.4L1226.8 354.5L1227.4 341.5L1227.9 354.0L1228.4 342.1L1228.9 353.7L1229.5 337.7L1230.0 353.5L1230.5 338.2L1231.1 353.2L1231.6 341.0L1232.1 356.8L1232.7 339.0L1233.2 354.6L1233.7 342.4L1234.2 354.5L1234.8 340.7L1235.3 355.6L1235.8 341.7L1236.4 355.8L1236.9 340.3L1237.4 355.9L1238.0 343.3L1238.5 356.0L1239.0 343.3L1239.6 355.5L1240.1 341.7L1240.6 357.1L1241.1 342.4L1241.7 356.8L1242.2 343.2L1242.7 361.5L1243.3 343.7L1243.8 356.7L1244.3 344.6L1244.9 357.1L1245.4 343.5L1245.9 357.7L1246.4 344.7L1247.0 355.4L1247.5 346.1L1248.0 355.0L1248.6 343.8L1249.1 356.5L1249.6 344.3L1250.2 353.9L1250.7 344.8L1251.2 353.7L1251.7 337.1L1252.3 355.3L1252.8 343.7L1253.4 349.4L1254.4 325.7L1255.8 356.7" stroke="#0000ff" stroke-width="4.4" fill="none" stroke-linejoin="round" stroke-linecap="butt"/></g></g>
<text x="98.60" y="432.50" font-size="28.7" text-anchor="middle">0</text>
<text x="291.47" y="432.50" font-size="28.7" text-anchor="middle">20</text>
<text x="484.33" y="432.50" font-size="28.7" text-anchor="middle">40</text>
<text x="677.20" y="432.50" font-size="28.7" text-anchor="middle">60</text>
<text x="870.07" y="432.50" font-size="28.7" text-anchor="middle">80</text>
<text x="1062.93" y="432.50" font-size="28.7" text-anchor="middle">100</text>
<text x="1255.80" y="432.50" font-size="28.7" text-anchor="middle">120</text>
<text x="90.5" y="409.10" font-size="28.7" text-anchor="end">0</text>
<text x="90.5" y="362.80" font-size="28.7" text-anchor="end">0.5</text>
<text x="90.5" y="316.70" font-size="28.7" text-anchor="end">1</text>
<text x="90.5" y="270.40" font-size="28.7" text-anchor="end">1.5</text>
<text x="679.00" y="470.40" font-size="32.5" text-anchor="middle">Time (s)</text>
<g transform="translate(27.5 370.40) rotate(-90)"><text x="4" y="0" font-size="25" style="font-family:'DejaVu Serif',serif;fill:#999">&#964;</text><text x="15.5" y="14.4" font-size="23">b</text><text x="38" y="0" font-size="32.5">(m)</text></g>
<path d="M291.47 503.60V640.40M484.33 503.60V640.40M677.20 503.60V640.40M870.07 503.60V640.40M1062.93 503.60V640.40" stroke="#262626" stroke-opacity="0.18" stroke-width="1.4" fill="none"/>
<path d="M98.60 594.80H1255.80M98.60 549.20H1255.80" stroke="#262626" stroke-opacity="0.18" stroke-width="1.4" fill="none"/>
<path d="M98.60 640.40v-11.0M98.60 503.60v11.0M291.47 640.40v-11.0M291.47 503.60v11.0M484.33 640.40v-11.0M484.33 503.60v11.0M677.20 640.40v-11.0M677.20 503.60v11.0M870.07 640.40v-11.0M870.07 503.60v11.0M1062.93 640.40v-11.0M1062.93 503.60v11.0M1255.80 640.40v-11.0M1255.80 503.60v11.0M98.60 640.40h11.0M1255.80 640.40h-11.0M98.60 594.80h11.0M1255.80 594.80h-11.0M98.60 549.20h11.0M1255.80 549.20h-11.0M98.60 503.60h11.0M1255.80 503.60h-11.0" stroke="#141414" stroke-width="2" fill="none"/>
<rect x="98.60" y="503.60" width="1157.20" height="136.80" stroke="#141414" stroke-width="2" fill="none"/>
<rect x="870.17" y="506.80" width="386.63" height="134.60" fill="#ff0000" fill-opacity="0.2"/>
<clipPath id="c2"><rect x="93.60" y="502.60" width="1164.20" height="141.80"/></clipPath>
<g filter="url(#bd)"><g clip-path="url(#c2)"><path d="M97.3 640.4L97.5 476.2L97.9 640.4L98.2 476.2L98.6 640.4L98.9 476.2L99.1 613.0L99.3 476.2L99.6 587.5L100.9 587.5L102.9 587.0L104.4 588.4L107.3 594.8L110.2 597.5L114.0 598.9L117.9 598.4L120.8 595.7L123.7 594.3L123.7 594.1L124.2 594.6L124.7 594.0L125.3 594.6L125.8 594.0L126.3 594.6L126.9 594.0L127.4 594.5L127.9 594.1L128.4 594.5L129.0 594.0L129.5 594.5L130.0 594.0L130.6 594.5L131.1 594.0L131.6 594.5L132.2 594.1L132.7 594.5L133.2 594.1L133.7 594.6L134.3 592.9L134.8 594.6L135.3 594.0L135.9 594.6L136.4 594.0L136.9 594.6L137.5 594.1L138.0 594.6L138.5 594.0L139.1 594.7L139.6 594.0L140.1 594.8L140.6 594.0L141.2 594.7L141.7 594.1L142.2 594.6L142.8 594.1L143.3 594.6L143.8 594.0L144.4 594.7L144.9 594.0L145.4 594.7L145.9 594.0L146.5 594.7L147.0 594.1L147.5 594.6L148.1 594.1L148.6 594.7L149.1 594.0L149.7 594.6L150.2 594.0L150.7 594.6L151.3 594.0L151.8 594.7L152.3 593.2L152.8 594.7L153.4 594.0L153.9 594.6L154.4 594.0L155.0 594.7L155.5 594.0L156.0 594.7L156.6 594.0L157.1 594.7L157.6 593.9L158.1 595.4L158.7 593.9L159.2 594.6L159.7 594.0L160.3 594.6L160.8 594.0L161.3 594.6L161.9 593.9L162.4 594.6L162.9 593.9L163.5 594.6L164.0 593.9L164.5 594.6L165.0 593.9L165.6 594.6L166.1 594.0L166.6 594.5L167.2 594.0L167.7 594.5L168.2 593.9L168.8 594.6L169.3 594.0L169.8 594.5L170.3 594.0L170.9 594.6L171.4 594.0L171.9 594.7L172.5 594.0L173.0 594.6L173.5 594.0L174.1 594.6L174.6 594.0L175.1 594.7L175.7 594.0L176.2 594.6L176.7 594.0L177.2 594.6L177.8 594.1L178.3 594.7L178.8 594.0L179.4 594.7L179.9 594.1L180.4 594.7L181.0 594.1L181.5 594.7L182.0 594.2L182.5 594.6L183.1 594.1L183.6 594.6L184.1 594.1L184.7 594.6L185.2 594.1L185.7 594.7L186.3 594.1L186.8 594.7L187.3 594.1L187.8 594.6L188.4 594.2L188.9 594.6L189.4 594.1L190.0 594.6L190.5 594.1L191.0 594.6L191.6 594.0L192.1 594.7L192.6 594.0L193.2 594.6L193.7 594.0L194.2 594.6L194.7 593.9L195.3 594.7L195.8 594.0L196.3 594.7L196.9 594.0L197.4 594.6L197.9 594.1L198.5 594.6L199.0 594.1L199.5 594.7L200.0 594.1L200.6 594.7L201.1 594.1L201.6 594.6L202.2 594.1L202.7 594.6L203.2 594.0L203.8 594.8L204.3 594.1L204.8 594.7L205.4 594.1L205.9 594.7L206.4 594.1L206.9 594.7L207.5 594.1L208.0 594.7L208.5 594.1L209.1 594.6L209.6 594.1L210.1 594.7L210.7 594.1L211.2 594.7L211.7 594.1L212.2 594.8L212.8 594.0L213.3 594.7L213.8 594.1L214.4 594.7L214.9 594.1L215.4 594.7L216.0 594.1L216.5 594.6L217.0 594.1L217.6 594.7L218.1 594.0L218.6 594.7L219.1 594.0L219.7 594.6L220.2 594.1L220.7 594.6L221.3 594.0L221.8 594.7L222.3 594.0L222.9 594.7L223.4 594.0L223.9 594.6L224.4 594.0L225.0 594.6L225.5 593.0L226.0 594.7L226.6 594.0L227.1 594.6L227.6 594.1L228.2 594.6L228.7 594.1L229.2 594.6L229.7 594.0L230.3 594.7L230.8 594.0L231.3 594.6L231.9 594.0L232.4 594.6L232.9 594.0L233.5 594.6L233.6 593.3L234.1 596.6L234.7 593.2L235.2 596.5L235.7 593.2L236.3 596.7L236.8 593.0L237.3 596.7L237.8 591.4L238.4 596.0L238.9 593.5L239.4 595.7L240.0 593.5L240.5 596.1L241.0 592.8L241.6 596.5L242.1 593.2L242.6 596.3L243.2 593.1L243.7 596.6L244.2 593.3L244.7 597.7L245.3 593.2L245.8 596.8L246.3 593.2L246.9 596.9L247.4 593.0L247.9 597.1L248.5 592.8L249.0 596.8L249.5 592.9L250.0 596.4L250.6 593.4L251.1 596.2L251.6 593.4L252.2 596.6L252.7 593.1L253.2 597.0L253.8 592.8L254.3 596.6L254.8 593.3L255.4 596.5L255.8 594.1L256.3 594.6L256.8 594.1L257.4 594.6L257.9 594.0L258.4 594.7L259.0 594.1L259.5 594.6L260.0 594.1L260.6 594.6L261.1 594.0L261.6 594.6L262.2 594.1L262.7 594.7L263.2 594.1L263.7 594.7L264.3 594.0L264.8 594.7L265.3 594.1L265.9 594.7L266.4 594.1L266.9 594.7L267.5 594.1L268.0 594.7L268.5 594.1L269.0 594.6L269.6 594.2L270.1 594.6L270.6 594.1L271.2 594.7L271.7 594.1L272.2 594.7L272.8 594.2L273.3 594.7L273.8 594.2L274.3 594.8L274.9 594.1L275.4 594.7L275.9 594.1L276.5 594.7L277.0 594.1L277.5 594.7L278.1 594.1L278.6 594.7L279.1 594.1L279.7 594.6L280.2 594.1L280.7 594.6L281.2 594.0L281.8 594.7L282.3 594.1L282.8 594.7L283.4 594.1L283.9 594.7L284.4 594.1L285.0 594.6L285.5 594.1L286.0 594.6L286.5 594.0L287.1 594.7L287.6 594.0L288.1 594.6L288.7 594.1L289.2 594.7L289.7 594.0L290.3 594.7L290.8 594.0L291.3 594.6L291.9 594.1L292.4 594.7L292.9 594.0L293.4 594.6L294.0 594.0L294.5 594.6L295.0 594.0L295.6 594.6L296.1 594.0L296.6 594.6L297.2 594.0L297.7 594.6L298.2 594.0L298.7 594.6L299.3 594.0L299.8 594.6L300.3 594.0L300.9 594.6L301.4 593.2L301.9 594.6L302.5 594.0L303.0 594.6L303.5 594.0L304.1 594.6L304.6 594.0L305.1 594.6L305.6 594.0L306.2 594.6L306.7 594.0L307.2 594.6L307.8 594.0L308.3 594.6L308.8 594.0L309.4 594.6L309.9 594.0L310.4 594.7L310.9 594.0L311.5 594.6L312.0 594.1L312.5 594.7L313.1 594.0L313.6 594.6L314.1 594.0L314.7 594.6L315.2 594.1L315.7 594.6L316.3 594.1L316.8 594.6L317.3 594.1L317.8 594.6L318.4 594.0L318.9 594.7L319.4 594.0L320.0 594.7L320.5 594.1L321.0 594.6L321.6 594.0L322.1 594.6L322.6 594.1L323.1 594.7L323.7 594.0L324.2 594.7L324.7 594.0L325.3 595.6L325.8 594.0L326.3 594.6L326.9 594.1L327.4 594.6L327.9 594.2L328.4 594.7L329.0 594.1L329.5 594.7L330.0 594.1L330.6 594.7L331.1 594.1L331.6 594.7L332.2 594.1L332.7 594.7L333.2 594.0L333.8 594.7L334.3 594.1L334.8 594.6L335.3 594.1L335.9 594.6L336.4 594.1L336.9 594.6L337.5 594.1L338.0 594.6L338.5 594.1L339.1 594.7L339.6 594.1L340.1 594.7L340.6 594.0L341.2 594.6L341.7 594.1L342.2 594.6L342.8 594.0L343.3 594.6L343.8 594.1L344.4 594.6L344.9 594.0L345.4 595.8L346.0 594.1L346.5 594.7L347.0 594.1L347.5 594.6L348.1 594.1L348.6 594.6L349.1 594.0L349.7 594.6L350.2 594.0L350.7 594.6L351.3 594.1L351.8 594.5L352.3 594.1L352.8 594.5L353.4 594.0L353.9 594.6L354.4 594.0L355.0 594.7L355.5 594.0L356.0 594.7L356.6 594.0L357.1 594.7L357.6 594.0L358.2 594.6L358.7 594.1L359.2 594.6L359.7 594.0L360.3 594.7L360.8 593.9L361.3 594.7L361.9 594.0L362.4 594.7L362.9 594.1L363.5 594.7L364.0 594.0L364.5 594.7L365.0 594.0L365.6 594.6L366.1 594.0L366.6 594.6L367.2 594.1L367.7 594.6L368.2 594.0L368.8 594.6L369.3 594.0L369.8 594.6L370.3 594.0L370.9 594.6L371.4 593.9L371.9 594.6L372.5 593.1L373.0 594.5L373.5 594.1L374.1 594.6L374.6 594.0L375.1 594.6L375.7 594.0L376.2 594.6L376.7 594.0L377.2 594.6L377.8 594.1L378.3 594.6L378.8 594.0L379.4 594.6L379.9 594.0L380.4 594.6L381.0 594.1L381.5 594.6L382.0 594.0L382.5 594.7L383.1 594.0L383.6 594.7L384.1 594.1L384.7 594.6L385.2 594.1L385.7 594.7L386.3 594.1L386.8 594.7L387.3 594.1L387.9 594.8L388.4 594.0L388.9 594.7L389.4 594.1L390.0 594.7L390.5 594.1L391.0 594.7L391.6 594.1L392.1 594.7L392.6 594.1L393.2 594.7L393.7 594.1L394.2 594.7L394.7 594.0L395.3 594.7L395.8 594.0L396.3 594.7L396.9 594.1L397.4 594.7L397.9 594.1L398.5 594.8L399.0 594.0L399.5 594.7L400.1 594.1L400.6 594.6L401.1 594.1L401.6 594.7L402.2 594.0L402.7 594.7L403.2 592.9L403.8 594.7L404.3 594.0L404.8 594.6L405.4 594.0L405.9 594.6L406.4 594.0L406.9 594.7L407.5 594.0L408.0 594.7L408.5 594.1L409.1 594.6L409.6 594.1L410.1 594.7L410.7 594.1L411.2 594.7L411.7 594.1L412.2 594.7L412.8 594.0L413.3 594.6L413.8 594.1L414.4 594.6L414.9 594.1L415.4 594.7L416.0 594.1L416.5 594.7L417.0 594.1L417.6 594.7L418.1 594.1L418.6 594.6L419.1 594.2L419.7 594.7L420.2 594.1L420.7 594.7L421.3 594.1L421.8 594.7L422.3 594.1L422.9 594.6L423.4 594.1L423.9 594.7L424.4 594.1L425.0 594.7L425.5 594.1L426.0 594.7L426.6 594.1L427.1 594.6L427.6 594.1L428.2 594.7L428.7 594.0L429.2 594.7L429.8 594.0L430.3 594.6L430.8 594.0L431.3 594.6L431.9 594.1L432.4 594.6L432.9 593.0L433.5 594.7L434.0 594.0L434.5 594.7L435.1 592.9L435.6 594.6L436.1 594.1L436.6 594.6L437.2 594.0L437.7 594.6L438.2 594.0L438.8 594.7L439.3 594.0L439.8 594.8L440.4 594.0L440.9 594.7L441.4 594.1L442.0 594.7L442.5 594.1L443.0 594.6L443.5 594.1L444.1 594.7L444.6 594.1L445.1 595.7L445.7 594.1L446.2 594.6L446.7 594.1L447.3 594.6L447.8 594.1L448.3 594.6L448.8 594.1L449.4 594.7L449.9 594.1L450.4 594.7L451.0 594.0L451.5 594.8L452.0 594.0L452.6 595.7L453.1 594.0L453.6 594.7L454.1 594.1L454.7 594.6L455.2 594.1L455.7 594.6L456.3 594.1L456.8 594.6L457.3 594.1L457.9 594.6L458.4 594.1L458.9 594.7L459.5 594.0L460.0 594.7L460.5 594.1L461.0 594.7L461.6 594.1L462.1 594.6L462.6 594.1L463.2 594.6L463.7 594.0L464.2 594.6L464.8 594.1L465.3 594.6L465.8 594.1L466.3 594.5L466.9 594.1L467.4 594.6L467.9 593.9L468.5 594.6L469.0 593.9L469.5 594.6L470.1 594.0L470.6 594.6L471.1 594.0L471.7 594.5L472.2 594.1L472.7 594.5L473.2 594.0L473.8 594.6L474.3 594.0L474.8 594.6L475.4 594.0L475.9 594.6L476.4 594.0L477.0 594.6L477.5 594.0L478.0 594.6L478.5 594.0L479.1 594.6L480.5 594.3L482.9 590.2L488.7 640.4L493.0 639.5L493.5 638.1L494.0 639.8L494.6 637.0L495.1 638.9L495.6 636.1L496.1 638.2L496.7 635.2L497.2 636.9L497.7 634.5L498.3 636.4L498.8 633.3L499.3 635.7L499.9 632.5L500.4 634.8L500.9 631.3L501.5 633.7L502.0 630.6L502.5 632.3L503.0 629.9L503.6 631.5L504.1 628.5L504.6 630.9L505.2 627.7L505.7 629.4L506.2 626.8L506.8 628.4L507.3 625.0L507.8 627.4L508.3 623.9L508.9 625.7L509.4 622.9L509.9 624.6L510.5 621.8L511.0 623.7L511.5 620.5L512.1 622.6L512.6 619.4L513.1 621.4L513.6 618.3L514.2 620.8L514.7 617.0L515.2 619.6L515.8 616.1L516.3 618.3L516.8 614.9L517.4 617.0L517.9 613.4L518.4 615.4L519.0 611.4L519.5 613.7L520.0 610.3L520.5 612.1L521.1 608.7L521.6 610.6L522.1 607.0L522.7 608.1L523.2 604.9L523.7 605.8L524.3 602.3L524.8 603.8L525.3 599.4L525.8 601.7L526.4 597.2L526.9 598.7L527.4 595.0L528.0 596.9L528.5 594.1L529.0 596.9L529.6 593.7L530.1 596.7L530.6 594.0L531.2 596.5L531.7 593.4L532.2 597.1L532.7 593.4L533.3 596.4L533.8 593.3L534.3 596.5L535.4 592.8L536.0 596.8L536.5 592.4L537.0 597.0L537.6 592.6L538.1 597.1L538.6 592.6L539.2 597.4L539.7 592.3L540.2 597.5L540.7 592.4L541.3 597.7L541.8 592.4L542.3 597.6L542.9 592.2L543.4 597.2L543.9 592.7L544.5 596.9L545.0 592.8L545.5 597.4L546.1 592.2L546.6 597.8L547.1 592.7L547.6 597.2L548.2 590.6L548.7 597.0L549.2 592.6L549.8 597.6L550.3 592.1L550.8 596.9L551.4 591.9L551.9 597.0L552.4 591.9L552.9 596.6L553.5 592.4L554.0 596.4L554.5 592.1L555.1 596.9L555.6 591.6L556.1 597.5L556.7 591.6L557.2 597.0L557.7 591.9L558.2 597.1L558.8 591.6L559.3 597.0L559.8 591.8L560.4 596.3L560.9 592.2L561.4 596.2L562.0 589.3L562.5 596.2L563.0 592.1L563.6 596.9L564.1 589.6L564.6 596.9L565.1 592.5L565.7 597.4L566.2 591.9L566.7 597.5L567.3 592.0L567.8 597.1L568.3 592.3L568.9 596.6L569.4 592.8L569.9 596.8L570.4 592.7L571.0 596.7L571.5 593.0L572.0 597.0L572.6 593.0L573.1 596.7L573.6 593.2L574.2 596.8L574.7 593.2L575.2 596.9L575.8 593.2L576.3 597.1L576.8 592.9L577.3 597.7L577.9 590.7L578.4 597.5L578.9 592.4L579.5 597.5L580.0 592.8L580.5 597.5L581.1 592.5L581.6 597.8L582.1 592.3L582.6 597.0L583.2 592.7L583.7 596.8L584.2 592.8L584.8 597.0L585.3 592.6L585.8 597.1L586.4 592.6L586.9 597.0L587.4 591.6L588.0 597.2L588.5 592.0L589.0 596.7L589.5 590.5L590.1 596.4L590.6 592.5L591.1 596.6L591.7 592.4L592.2 596.7L592.7 592.1L593.3 596.8L593.8 592.2L594.3 596.5L594.8 592.8L595.4 597.1L595.9 592.4L596.4 598.2L597.0 592.2L597.5 597.9L598.0 592.7L598.6 599.4L599.1 593.1L599.6 597.5L600.1 592.9L600.7 598.2L601.2 592.5L601.7 597.4L602.3 593.0L602.8 597.6L603.3 592.9L603.9 597.5L604.4 592.8L604.9 597.2L605.5 593.1L606.0 597.2L606.5 592.7L607.0 598.2L607.6 592.7L608.1 597.7L608.6 592.5L609.2 597.6L609.7 592.6L610.2 597.2L610.8 592.3L611.3 599.9L611.8 591.9L612.3 597.5L612.9 591.8L613.4 597.9L613.9 592.2L614.5 597.0L615.0 593.1L615.5 596.8L616.1 592.8L616.6 597.3L617.1 593.1L617.7 597.3L618.2 593.2L618.7 597.7L619.2 593.0L619.8 597.6L620.3 593.0L620.8 597.4L621.4 593.3L621.9 598.0L622.4 593.3L623.0 597.9L623.5 593.9L624.0 597.9L624.5 594.0L625.1 598.2L625.6 594.3L626.1 598.0L626.7 593.4L627.2 598.2L627.7 593.6L628.3 597.8L628.8 592.8L629.3 598.3L629.9 592.9L630.4 597.7L630.9 593.6L631.4 597.0L632.0 593.7L632.5 597.3L633.0 593.4L633.6 597.3L634.1 593.5L634.6 597.5L635.2 592.4L635.7 598.3L636.2 592.1L636.7 598.1L637.3 592.4L637.8 597.4L638.3 592.5L638.9 597.6L639.4 590.8L639.9 597.4L640.5 592.5L641.0 597.8L641.5 592.7L642.1 597.8L642.6 593.2L643.1 597.4L643.6 593.2L644.2 596.9L644.7 593.2L645.2 599.6L645.8 593.1L646.3 596.8L646.8 592.6L647.4 597.4L647.9 592.5L648.4 597.5L648.9 592.7L649.5 597.1L650.0 592.8L650.5 596.9L651.1 592.3L651.6 597.6L652.1 592.3L652.7 597.0L653.2 593.4L653.7 597.1L654.2 593.4L654.8 596.9L655.3 590.5L655.8 596.6L656.4 593.2L656.9 597.5L657.4 592.9L658.0 597.5L658.5 593.3L659.0 597.9L659.6 593.0L660.1 598.5L660.6 592.5L661.1 598.1L661.7 592.9L662.2 597.7L662.7 593.4L663.3 597.8L663.8 591.4L664.3 598.2L664.9 593.5L665.4 597.8L665.9 593.5L666.4 597.9L667.0 593.3L667.5 597.8L668.0 591.8L668.6 598.1L669.1 593.8L669.6 597.7L670.2 593.6L670.7 598.0L671.2 593.0L671.8 597.7L672.3 593.0L672.8 597.7L673.3 592.7L673.9 597.3L674.4 592.6L674.9 597.8L675.5 592.9L676.0 597.4L676.5 593.0L677.1 597.4L677.6 592.4L678.1 597.6L678.6 592.2L679.2 596.9L679.7 592.5L680.2 596.8L680.8 592.6L681.3 596.2L681.8 592.1L682.4 596.7L682.9 592.0L683.4 600.0L684.0 592.1L684.5 597.4L685.0 592.3L685.5 597.1L686.1 592.2L686.6 597.1L687.1 592.6L687.7 596.6L688.2 592.3L688.7 597.1L689.3 591.7L689.8 597.0L690.3 590.5L690.8 596.5L691.4 592.7L691.9 597.1L692.4 592.2L693.0 597.6L693.5 592.5L694.0 597.4L694.6 592.3L695.1 598.0L695.6 592.4L696.1 597.3L696.7 593.0L697.2 597.0L697.7 593.2L698.3 599.9L698.8 590.3L699.3 597.6L699.9 592.6L700.4 597.9L700.9 592.4L701.5 598.1L702.0 592.5L702.5 597.4L703.0 592.6L703.6 597.6L704.1 592.3L704.6 598.0L705.2 590.9L705.7 597.8L706.2 592.4L706.8 597.4L707.3 592.7L707.8 597.4L708.3 592.8L708.9 597.4L709.4 593.1L709.9 596.9L710.5 593.2L711.0 597.2L711.5 593.0L712.1 597.9L712.6 592.7L713.1 597.5L713.7 592.6L714.2 597.3L714.7 592.3L715.2 597.3L715.8 590.8L716.3 597.3L716.8 592.3L717.4 597.1L717.9 592.2L718.4 596.8L719.0 592.7L719.5 597.0L720.0 593.0L720.5 597.3L721.1 592.4L721.6 596.9L722.1 592.4L722.7 596.5L723.2 592.4L723.7 596.6L724.3 592.0L724.8 596.8L725.3 590.1L725.9 596.5L726.4 592.4L726.9 595.9L727.4 592.7L728.0 596.5L728.5 592.6L729.0 596.9L729.6 592.8L730.1 597.0L730.6 592.7L731.2 596.9L731.7 589.8L732.2 596.9L732.7 592.9L733.3 597.0L733.8 592.8L734.3 597.7L734.9 592.4L735.4 598.1L735.9 592.9L736.5 597.6L737.0 593.2L737.5 597.5L738.0 593.5L738.6 597.8L739.1 593.2L739.6 598.1L740.2 593.8L740.7 597.6L741.2 593.2L741.8 597.7L742.3 593.2L742.8 597.0L743.4 593.1L743.9 597.2L744.4 593.2L744.9 597.4L745.5 592.5L746.0 597.8L746.5 590.4L747.1 597.3L747.6 592.6L748.1 597.0L748.7 592.2L749.2 596.8L749.7 592.7L750.2 596.3L750.8 592.5L751.3 596.8L751.8 592.6L752.4 596.8L752.9 592.0L753.4 597.1L754.0 592.3L754.5 596.8L755.0 592.2L755.6 597.1L756.1 592.1L756.6 597.4L757.1 592.1L757.7 596.6L758.2 592.8L758.7 596.6L759.3 592.5L759.8 598.7L760.3 592.8L760.9 596.8L761.4 592.7L761.9 597.4L762.4 592.4L763.0 597.7L763.5 592.1L764.0 600.3L764.6 592.1L765.1 597.5L765.6 592.2L766.2 596.8L766.7 592.6L767.2 597.1L767.8 591.8L768.3 598.6L768.8 591.6L769.3 597.1L769.9 590.8L770.4 596.6L770.9 593.2L771.5 597.3L772.0 592.9L772.5 597.5L773.1 592.8L773.6 597.3L774.1 592.7L774.6 597.2L775.2 592.9L775.7 597.6L776.2 592.7L776.8 600.6L777.3 593.0L777.8 597.3L778.4 593.2L778.9 597.3L779.4 592.9L779.9 598.0L780.5 593.3L781.0 597.4L781.5 593.5L782.1 598.0L782.6 592.5L783.1 598.2L783.7 590.1L784.2 597.3L784.7 593.4L785.3 597.3L785.8 592.9L786.3 598.2L786.8 592.9L787.4 598.0L787.9 593.4L788.4 597.6L789.0 594.0L789.5 597.5L790.0 593.4L790.6 597.8L791.1 593.0L791.6 597.6L792.1 592.9L792.7 597.6L793.2 592.8L793.7 597.6L794.3 592.9L794.8 597.4L795.3 593.1L795.9 597.3L796.4 592.8L796.9 597.7L797.5 592.4L798.0 598.1L798.5 592.9L799.0 597.3L799.6 592.9L800.1 597.3L800.6 592.4L801.2 596.7L801.7 592.4L802.2 596.5L802.8 592.5L803.3 596.6L803.8 592.8L804.3 596.5L804.9 589.9L805.4 596.5L805.9 593.3L806.5 596.7L807.0 592.6L807.5 597.3L808.1 592.8L808.6 597.2L809.1 592.7L809.7 597.3L810.2 592.5L810.7 596.8L811.2 592.5L811.8 597.0L812.3 592.5L812.8 596.8L813.4 592.0L813.9 597.3L814.4 592.1L815.0 596.9L815.5 592.7L816.0 596.3L816.5 590.2L817.1 596.4L817.6 592.4L818.1 597.2L818.7 592.0L819.2 597.0L819.7 592.4L820.3 596.9L820.8 592.5L821.3 596.7L821.8 592.6L822.4 596.7L822.9 592.3L823.4 596.7L824.0 592.7L824.5 596.7L825.0 592.6L825.6 597.3L826.1 592.5L826.6 597.5L827.2 592.9L827.7 597.0L828.2 593.1L828.7 597.1L829.3 592.9L829.8 597.2L830.3 593.1L830.9 597.5L831.4 593.3L831.9 597.7L832.5 593.0L833.0 597.7L833.5 592.9L834.0 597.3L834.6 593.1L835.1 597.1L835.6 593.3L836.2 597.3L836.7 593.1L837.2 597.6L837.8 592.3L838.3 597.9L838.8 592.4L839.4 599.2L839.9 593.0L840.4 597.2L840.9 593.0L841.5 597.2L842.0 592.6L842.5 597.2L843.1 592.8L843.6 597.3L844.1 592.9L844.7 597.3L845.2 592.8L845.7 597.8L846.2 592.6L846.8 597.5L847.3 593.0L847.8 597.5L848.4 592.3L848.9 597.7L849.4 592.4L850.0 597.5L850.5 592.9L851.0 597.1L851.6 593.0L852.1 597.6L852.6 592.5L853.1 597.3L853.7 592.4L854.2 597.5L854.7 592.5L855.3 597.9L855.8 592.3L856.3 597.4L856.9 592.8L857.4 597.0L857.9 592.3L858.4 597.5L859.0 592.2L859.5 597.2L860.0 592.8L860.6 597.2L861.1 593.3L861.6 600.1L862.2 593.1L862.7 597.4L863.2 593.1L863.8 597.1L864.3 592.9L864.8 597.1L865.3 592.7L865.9 596.9L866.2 595.3L867.9 592.1L869.6 641.1L1255.8 641.1" stroke="#0000ff" stroke-width="4.4" fill="none" stroke-linejoin="round" stroke-linecap="butt"/></g></g>
<path d="M868.57 505.40V640.40" stroke="#000" stroke-width="2.6" stroke-dasharray="10.5 9" fill="none"/>
<text x="98.60" y="677.90" font-size="28.7" text-anchor="middle">0</text>
<text x="291.47" y="677.90" font-size="28.7" text-anchor="middle">20</text>
<text x="484.33" y="677.90" font-size="28.7" text-anchor="middle">40</text>
<text x="677.20" y="677.90" font-size="28.7" text-anchor="middle">60</text>
<text x="870.07" y="677.90" font-size="28.7" text-anchor="middle">80</text>
<text x="1062.93" y="677.90" font-size="28.7" text-anchor="middle">100</text>
<text x="1255.80" y="677.90" font-size="28.7" text-anchor="middle">120</text>
<text x="90.5" y="654.50" font-size="28.7" text-anchor="end">0</text>
<text x="90.5" y="608.20" font-size="28.7" text-anchor="end">0.5</text>
<text x="90.5" y="562.10" font-size="28.7" text-anchor="end">1</text>
<text x="90.5" y="515.80" font-size="28.7" text-anchor="end">1.5</text>
<text x="679.00" y="715.80" font-size="32.5" text-anchor="middle">Time (s)</text>
<g transform="translate(27.5 615.80) rotate(-90)"><text x="4" y="0" font-size="25" style="font-family:'DejaVu Serif',serif;fill:#999">&#964;</text><text x="15.5" y="14.4" font-size="23">c</text><text x="38" y="0" font-size="32.5">(m)</text></g>
<path d="M291.47 749.00V885.80M484.33 749.00V885.80M677.20 749.00V885.80M870.07 749.00V885.80M1062.93 749.00V885.80" stroke="#262626" stroke-opacity="0.18" stroke-width="1.4" fill="none"/>
<path d="M98.60 840.20H1255.80M98.60 794.60H1255.80" stroke="#262626" stroke-opacity="0.18" stroke-width="1.4" fill="none"/>
<path d="M98.60 885.80v-11.0M98.60 749.00v11.0M291.47 885.80v-11.0M291.47 749.00v11.0M484.33 885.80v-11.0M484.33 749.00v11.0M677.20 885.80v-11.0M677.20 749.00v11.0M870.07 885.80v-11.0M870.07 749.00v11.0M1062.93 885.80v-11.0M1062.93 749.00v11.0M1255.80 885.80v-11.0M1255.80 749.00v11.0M98.60 885.80h11.0M1255.80 885.80h-11.0M98.60 840.20h11.0M1255.80 840.20h-11.0M98.60 794.60h11.0M1255.80 794.60h-11.0M98.60 749.00h11.0M1255.80 749.00h-11.0" stroke="#141414" stroke-width="2" fill="none"/>
<rect x="98.60" y="749.00" width="1157.20" height="136.80" stroke="#141414" stroke-width="2" fill="none"/>
<clipPath id="c3"><rect x="93.60" y="748.00" width="1164.20" height="141.80"/></clipPath>
<g filter="url(#bd)"><g clip-path="url(#c3)"><path d="M97.3 885.8L97.5 721.6L97.9 885.8L98.2 721.6L98.6 885.8L98.9 721.6L99.1 858.4L99.3 721.6L100.5 749.0L102.0 785.5L103.4 812.8L104.9 831.1L106.3 838.4L108.2 838.4L111.1 842.9L114.0 844.8L117.9 840.2L117.9 839.1L118.4 841.3L118.9 838.8L119.5 841.5L120.0 838.5L120.5 841.4L121.1 838.5L121.6 841.4L122.1 838.6L122.7 841.2L123.2 838.6L123.7 841.7L124.3 838.8L124.8 842.6L125.3 838.9L125.8 843.0L126.4 839.0L126.9 841.6L127.4 839.0L128.0 841.5L128.5 839.1L129.0 841.2L129.6 837.8L130.1 841.8L130.6 838.9L131.1 842.1L131.7 838.9L132.2 841.8L132.7 839.1L133.3 841.6L133.8 839.2L134.3 841.6L134.9 839.4L135.4 841.8L135.9 838.9L136.5 842.3L137.0 839.0L137.5 841.9L138.0 839.2L138.6 841.8L139.1 839.0L139.6 841.8L140.2 838.8L140.7 841.4L141.2 839.3L141.8 841.4L142.3 838.8L142.8 841.8L143.3 838.5L143.9 841.6L144.4 838.9L144.9 841.0L145.5 838.8L146.0 841.3L146.5 838.4L147.1 841.2L147.6 838.5L148.1 841.3L148.6 838.4L149.2 841.3L149.7 838.4L150.2 841.1L150.8 838.4L151.3 841.0L151.8 838.3L152.4 841.1L152.9 838.5L153.4 840.8L154.0 838.6L154.5 840.8L155.0 838.5L155.5 840.9L156.1 838.3L156.6 841.1L157.1 838.1L157.7 841.0L158.2 838.5L158.7 841.1L159.3 838.1L159.8 841.3L160.3 838.4L160.8 840.9L161.4 838.8L161.9 840.9L162.4 838.9L163.0 841.1L163.5 838.7L164.0 841.4L164.6 837.5L165.1 841.7L165.6 838.5L166.2 841.3L166.7 839.1L167.2 841.2L167.7 838.6L168.3 841.3L168.8 838.4L169.3 840.8L169.9 838.3L170.4 841.2L170.9 837.9L171.5 841.2L172.0 838.2L172.5 841.0L173.0 838.1L173.6 841.1L174.1 838.3L174.6 840.4L175.2 837.1L175.7 840.4L176.2 837.9L176.8 840.2L177.3 838.0L177.8 840.6L178.4 837.9L178.9 840.6L179.4 837.8L179.9 840.9L180.5 837.7L181.0 840.9L181.5 837.9L182.1 841.0L182.6 838.5L183.1 840.9L183.7 838.5L184.2 841.1L184.7 838.4L185.2 840.9L185.8 838.7L186.3 840.7L186.8 838.5L187.4 841.1L187.9 838.2L188.4 841.2L189.0 838.7L189.5 840.8L190.0 838.9L190.5 840.8L191.1 838.5L191.6 841.1L192.1 838.2L192.7 840.9L193.2 837.9L193.7 841.1L194.3 837.6L194.8 840.8L195.3 837.7L195.9 840.3L196.4 837.7L196.9 840.2L197.4 837.6L198.0 840.1L198.5 837.5L199.0 840.3L199.6 837.4L200.1 840.3L200.6 837.7L201.2 840.2L201.7 837.5L202.2 840.3L202.7 837.5L203.3 840.2L203.8 837.4L204.3 840.2L204.9 837.7L205.4 840.2L205.9 837.6L206.5 840.4L207.0 837.6L207.5 840.4L208.1 837.4L208.6 840.3L209.1 837.4L209.6 840.3L210.2 837.4L210.7 840.3L211.2 837.7L211.8 840.2L212.3 837.5L212.8 840.4L213.4 837.5L213.9 840.2L214.4 837.3L214.9 840.3L215.5 836.3L216.0 839.9L216.5 837.8L217.1 839.9L217.6 837.5L218.1 840.0L218.7 837.5L219.2 839.8L219.7 837.2L220.3 840.1L220.8 837.1L221.3 840.1L221.8 837.2L222.4 839.8L222.9 836.1L223.4 840.1L224.0 837.0L224.5 839.9L225.0 837.4L225.6 839.5L226.1 837.4L226.6 839.6L227.1 837.3L227.7 840.0L228.2 837.1L228.7 840.2L229.3 837.2L229.8 839.9L230.3 837.3L230.9 839.9L231.4 837.3L231.9 839.5L232.4 837.5L233.0 839.5L233.5 837.3L233.6 838.4L233.6 836.8L234.1 839.7L234.7 836.7L235.2 839.5L235.7 836.7L236.3 839.4L236.8 836.8L237.3 839.6L237.8 836.7L238.4 839.8L238.9 836.6L239.4 839.9L240.0 836.7L240.5 839.7L241.0 836.9L241.6 839.7L242.1 836.8L242.6 839.5L243.2 837.0L243.7 839.5L244.2 837.1L244.7 839.8L245.3 837.1L245.8 839.7L246.3 837.1L246.9 839.8L247.4 836.6L247.9 840.1L248.5 836.7L249.0 839.7L249.5 836.9L250.0 840.0L250.6 836.4L251.1 839.9L251.6 836.5L252.2 839.4L252.7 836.7L253.2 839.3L253.8 836.4L254.3 839.3L254.8 836.1L255.4 839.4L255.9 836.2L256.4 839.2L256.9 836.4L257.5 838.7L258.0 834.9L258.5 838.7L259.1 836.2L259.6 839.1L260.1 834.8L260.7 838.9L261.2 836.2L261.7 838.7L262.2 835.9L262.8 838.9L263.3 835.6L263.8 839.0L264.4 836.0L264.9 838.9L265.4 835.8L266.0 839.0L266.5 835.8L267.0 838.9L267.6 836.0L268.1 838.7L268.6 836.1L269.1 838.4L269.7 836.2L270.2 838.4L270.7 836.0L271.3 838.5L271.8 834.3L272.3 838.5L272.9 835.9L273.4 838.4L273.9 835.7L274.4 838.6L275.0 836.0L275.5 838.3L276.0 836.0L276.6 838.4L277.1 835.9L277.6 838.2L278.2 835.8L278.7 838.3L279.2 835.7L279.8 838.2L280.3 835.5L280.8 838.5L281.3 835.4L281.9 838.4L282.4 835.7L282.9 838.0L283.5 835.5L284.0 838.3L284.5 833.9L285.1 838.4L285.6 835.6L286.1 838.3L286.6 835.8L287.2 838.2L287.7 835.3L288.2 838.3L288.8 835.4L289.3 838.1L289.8 833.8L290.4 838.3L290.9 835.4L291.4 838.3L291.9 834.4L292.5 838.3L293.0 835.5L293.5 838.3L294.1 835.6L294.6 838.2L295.1 835.3L295.7 838.1L296.2 835.4L296.7 837.9L297.3 835.5L297.8 837.9L298.3 835.6L298.8 837.9L299.4 835.4L299.9 837.9L300.4 835.1L301.0 838.0L301.5 835.0L302.0 838.0L302.6 835.1L303.1 837.7L303.6 835.1L304.1 837.5L304.7 835.3L305.2 837.5L305.7 835.1L306.3 837.6L306.8 834.7L307.3 837.8L307.9 834.8L308.4 837.3L308.9 835.0L309.5 837.3L310.0 834.8L310.5 837.5L311.0 834.8L311.6 837.4L312.1 834.7L312.6 837.5L313.2 834.9L313.7 837.5L314.2 834.7L314.8 837.6L315.3 834.5L315.8 837.5L316.3 834.5L316.9 837.6L317.4 834.7L317.9 837.3L318.5 835.0L319.0 837.3L319.5 834.8L320.1 837.2L320.6 834.7L321.1 837.4L321.7 834.4L322.2 837.3L322.7 834.7L323.2 837.2L323.8 834.4L324.3 837.4L324.8 834.2L325.4 837.2L325.9 834.0L326.4 837.0L327.0 834.5L327.5 836.5L328.0 834.4L328.5 837.0L329.1 833.9L329.6 837.2L330.1 833.6L330.7 836.9L331.2 833.8L331.7 836.6L332.3 834.1L332.8 836.6L333.3 834.2L333.8 836.7L334.4 833.8L334.9 836.9L335.4 833.9L336.0 836.7L336.5 832.7L337.0 836.6L337.6 833.8L338.1 836.7L338.6 833.7L339.2 836.5L339.7 833.7L340.2 836.3L340.7 833.9L341.3 836.4L341.8 833.7L342.3 836.6L342.9 833.5L343.4 836.9L343.9 833.7L344.5 836.9L345.0 833.9L345.5 836.9L346.0 833.9L346.6 836.7L347.1 834.3L347.6 836.6L348.2 834.3L348.7 836.8L349.2 834.2L349.8 836.8L350.3 834.4L350.8 836.8L351.4 834.3L351.9 837.1L352.4 834.3L352.9 837.0L353.5 834.6L354.0 836.9L354.5 834.4L355.1 836.8L355.6 834.6L356.1 836.7L356.7 834.5L357.2 836.9L357.7 834.0L358.2 837.1L358.8 834.2L359.3 836.9L359.8 834.0L360.4 836.9L360.9 833.9L361.4 836.6L362.0 834.1L362.5 836.4L363.0 834.0L363.6 836.6L364.1 833.7L364.6 836.6L365.1 834.0L365.7 836.4L366.2 833.7L366.7 836.6L367.3 833.7L367.8 837.8L368.3 833.8L368.9 836.3L369.4 834.1L369.9 836.3L370.4 833.9L371.0 836.6L371.5 833.7L372.0 836.9L372.6 833.6L373.1 836.6L373.6 834.2L374.2 836.5L374.7 834.0L375.2 836.6L375.7 834.1L376.3 836.4L376.8 833.9L377.3 836.8L377.9 833.7L378.4 836.6L378.9 834.0L379.5 836.4L380.0 834.2L380.5 836.3L381.1 834.0L381.6 836.3L382.1 832.1L382.6 836.1L383.2 833.8L383.7 836.3L384.2 833.6L384.8 836.1L385.3 832.1L385.8 835.9L386.4 833.5L386.9 836.0L387.4 833.1L387.9 836.1L388.5 833.4L389.0 836.1L389.5 833.2L390.1 836.2L390.6 832.8L391.1 836.2L391.7 833.0L392.2 836.0L392.7 833.5L393.3 835.9L393.8 833.2L394.3 836.3L394.8 833.3L395.4 835.7L395.9 833.6L396.4 835.9L397.0 833.3L397.5 836.4L398.0 833.1L398.6 836.3L399.1 833.3L399.6 836.2L400.1 833.4L400.7 836.1L401.2 833.4L401.7 835.7L402.3 833.5L402.8 835.9L403.3 833.3L403.9 835.9L404.4 833.3L404.9 836.0L405.5 833.0L406.0 835.7L406.5 833.2L407.0 835.8L407.6 832.9L408.1 836.0L408.6 833.2L409.2 835.9L409.7 833.1L410.2 835.8L410.8 833.4L411.3 835.4L411.8 833.2L412.3 835.9L412.9 832.5L413.4 836.1L413.9 832.8L414.5 835.9L415.0 833.1L415.5 835.6L416.1 833.3L416.6 835.7L417.1 833.0L417.6 835.7L418.2 833.5L418.7 835.5L419.2 833.4L419.8 835.9L420.3 833.1L420.8 835.6L421.4 833.3L421.9 835.6L422.4 833.0L423.0 835.8L423.5 833.2L424.0 835.9L424.5 833.1L425.1 836.2L425.6 833.0L426.1 836.3L426.7 833.2L427.2 836.0L427.7 833.3L428.3 836.2L428.8 833.3L429.3 836.2L429.8 832.2L430.4 836.3L430.9 833.0L431.4 836.1L432.0 833.2L432.5 835.9L433.0 833.0L433.6 836.1L434.1 833.0L434.6 836.2L435.2 832.8L435.7 836.1L436.2 833.1L436.7 836.0L437.3 832.8L437.8 835.9L438.3 832.8L438.9 835.9L439.4 832.6L439.9 835.9L440.5 833.2L441.0 835.3L441.5 833.4L442.0 835.4L442.6 833.1L443.1 835.7L443.6 833.2L444.2 835.6L444.7 833.3L445.2 836.0L445.8 832.9L446.3 836.3L446.8 833.0L447.4 835.9L447.9 833.1L448.4 835.8L448.9 833.1L449.5 835.7L450.0 833.1L450.5 835.7L451.1 832.9L451.6 836.0L452.1 832.7L452.7 835.7L453.2 832.7L453.7 835.7L454.2 832.4L454.8 835.7L455.3 832.8L455.8 835.2L456.4 832.9L456.9 835.2L457.4 831.5L458.0 835.3L458.5 832.5L459.0 835.8L459.5 832.5L460.1 835.7L460.6 831.0L461.1 835.5L461.7 832.7L462.2 835.4L462.7 832.8L463.3 837.1L463.8 832.9L464.3 836.8L464.9 833.2L465.4 835.4L465.9 833.0L466.4 835.7L467.0 832.7L467.5 835.7L468.0 832.9L468.6 835.0L469.1 832.9L469.6 835.4L470.2 832.8L470.7 835.3L471.2 832.8L471.7 835.4L472.3 832.5L472.8 835.4L473.3 832.8L473.9 835.5L474.4 832.9L474.9 835.5L475.5 832.9L476.0 835.3L476.5 833.0L477.1 835.3L477.6 832.6L478.1 835.4L478.6 832.7L479.2 835.4L479.7 832.4L480.2 835.7L480.8 832.6L481.3 835.6L481.9 834.2L483.4 822.0L484.3 822.0L485.0 885.8L485.3 864.8L485.3 845.3L485.8 884.3L486.4 845.3L486.9 884.3L487.4 845.3L487.9 884.3L488.5 845.3L489.0 884.3L489.5 845.3L490.1 884.3L490.6 845.3L491.1 884.3L491.7 845.3L492.2 884.3L492.5 864.8L492.5 855.8L493.1 876.1L493.6 861.9L494.1 880.2L494.7 865.7L495.2 881.2L495.7 868.1L496.2 882.1L496.8 870.5L496.9 876.7L496.9 873.9L497.4 883.8L497.9 870.3L498.5 882.7L499.0 870.7L499.5 880.2L500.1 869.5L500.6 881.0L501.1 868.1L501.6 880.2L502.2 868.3L502.7 878.6L503.2 866.7L503.8 879.9L504.3 865.3L504.8 879.9L505.4 865.2L505.9 876.9L506.4 862.9L506.9 876.6L507.5 863.9L508.0 874.5L508.5 864.2L509.1 874.3L509.6 864.1L509.6 867.6L510.1 874.0L510.2 843.8L510.7 862.9L510.8 867.6L511.2 873.5L511.7 861.8L512.3 871.5L512.8 862.3L513.3 869.8L513.8 854.6L514.4 868.7L514.9 858.2L515.4 869.9L516.0 855.4L516.5 867.4L517.0 854.4L517.6 864.9L518.1 851.0L518.6 863.8L519.1 845.7L519.7 859.5L520.2 849.7L520.7 863.1L521.3 848.4L521.8 860.6L522.3 846.8L522.9 859.8L523.4 847.2L523.9 858.0L524.4 847.8L525.0 857.0L525.5 848.5L526.0 856.9L526.6 845.1L527.1 856.9L527.6 842.8L528.2 853.7L528.7 842.9L529.2 850.6L529.8 841.9L530.3 850.2L530.8 840.0L531.3 847.9L531.9 838.8L532.4 848.3L532.9 837.8L533.5 851.7L534.0 835.9L534.5 850.5L535.1 835.9L535.6 850.7L536.1 837.0L536.6 849.0L537.2 837.4L537.7 848.4L538.2 837.5L538.8 847.5L539.3 838.4L539.8 847.3L540.4 835.8L540.9 847.7L541.4 836.3L542.0 845.4L542.5 837.3L543.0 845.4L543.5 837.3L544.1 845.5L544.6 837.5L545.1 849.4L545.7 834.8L546.2 847.1L546.7 836.8L547.0 835.9L547.5 844.6L548.1 836.1L548.6 844.2L549.1 835.9L549.7 851.6L550.2 836.0L550.7 845.3L551.3 835.3L551.8 844.9L552.3 835.8L552.8 844.5L553.4 836.0L553.9 846.1L554.4 835.4L555.0 846.7L555.5 830.4L556.0 846.2L556.6 837.3L557.1 845.6L557.6 836.9L558.2 851.7L558.7 837.6L559.2 845.3L559.7 836.9L560.3 845.1L560.8 836.5L561.3 845.1L561.9 835.8L562.4 845.5L562.9 835.6L563.5 844.2L564.0 835.0L564.5 849.9L565.0 835.0L565.6 850.6L566.1 836.5L566.6 843.7L567.2 835.5L567.7 845.3L568.2 834.5L568.8 844.9L569.3 834.3L569.8 844.1L570.4 834.2L570.9 842.9L571.4 834.6L571.9 843.2L572.5 834.1L573.0 843.8L573.5 835.1L574.1 843.7L574.6 834.6L575.1 845.0L575.7 834.7L576.2 851.0L576.7 835.2L577.2 844.5L577.8 835.2L578.3 843.7L578.8 834.6L579.4 844.7L579.9 833.2L580.4 845.1L581.0 833.4L581.5 844.2L582.0 835.2L582.6 843.8L583.1 835.1L583.6 844.2L584.1 836.4L584.7 843.4L585.2 836.8L585.7 844.1L586.3 836.2L586.8 844.9L587.3 836.6L587.9 844.8L588.4 836.1L588.9 845.6L589.4 835.4L590.0 845.0L590.5 836.3L591.0 845.1L591.6 837.5L592.1 844.6L592.6 837.6L593.2 846.3L593.7 837.1L594.2 846.2L594.7 837.1L595.3 853.4L595.8 837.4L596.3 845.6L596.9 837.2L597.4 846.1L597.9 836.9L598.5 845.7L599.0 836.5L599.5 845.9L600.1 835.7L600.6 845.4L601.1 835.7L601.6 845.2L602.2 835.7L602.7 843.8L603.2 836.3L603.8 843.7L604.3 835.5L604.8 843.3L605.4 835.5L605.9 843.6L606.4 835.6L606.9 843.3L607.5 834.4L608.0 844.7L608.5 834.8L609.1 843.6L609.6 835.0L610.1 848.8L610.7 828.0L611.2 844.5L611.7 835.4L612.3 843.8L612.8 836.7L613.3 844.9L613.8 836.1L614.4 844.7L614.9 836.2L615.4 845.7L616.0 835.6L616.5 845.2L617.0 837.0L617.6 844.7L618.1 836.4L618.6 844.5L619.1 835.9L619.7 845.5L620.2 830.4L620.7 845.5L621.3 835.3L621.8 845.0L622.3 835.5L622.9 845.6L623.4 831.5L623.9 844.0L624.5 836.1L625.0 844.2L625.5 836.3L626.0 843.1L626.6 836.2L627.1 844.8L627.6 834.8L628.2 845.5L628.7 835.5L629.2 844.3L629.8 836.5L630.3 843.5L630.8 836.2L631.3 843.7L631.9 836.7L632.4 844.5L632.9 835.6L633.5 845.1L634.0 836.5L634.5 844.4L635.1 836.5L635.6 845.1L636.1 836.8L636.6 844.4L637.2 836.0L637.7 845.4L638.2 836.2L638.8 844.3L639.3 836.5L639.8 845.2L640.4 831.3L640.9 844.7L641.4 836.4L642.0 845.6L642.5 834.6L643.0 845.9L643.5 835.8L644.1 844.3L644.6 837.3L645.1 844.5L645.7 835.9L646.2 845.2L646.7 835.6L647.3 845.5L647.8 834.8L648.3 845.2L648.8 834.3L649.4 845.0L649.9 835.6L650.4 844.1L651.0 835.4L651.5 844.2L652.0 834.8L652.6 844.6L653.1 833.9L653.6 844.6L654.2 833.3L654.7 843.5L655.2 833.6L655.7 844.1L656.3 834.0L656.8 843.9L657.3 835.3L657.9 843.1L658.4 835.1L658.9 843.5L659.5 835.0L660.0 843.3L660.5 835.6L661.0 844.0L661.6 834.8L662.1 843.9L662.6 834.7L663.2 843.3L663.7 835.1L664.2 843.1L664.8 835.4L665.3 844.3L665.8 834.3L666.4 845.2L666.9 835.4L667.4 844.2L667.9 836.9L668.5 844.6L669.0 835.7L669.5 844.8L670.1 835.7L670.6 844.4L671.1 835.1L671.7 843.9L672.2 835.2L672.7 843.2L673.2 835.6L673.8 842.7L674.3 835.1L674.8 843.8L675.4 834.7L675.9 850.5L676.4 835.7L677.0 844.0L677.5 836.7L678.0 844.0L678.6 835.8L679.1 844.3L679.6 834.7L680.1 844.4L680.7 834.6L681.2 842.9L681.7 835.0L682.3 844.2L682.8 833.6L683.3 844.9L683.9 834.4L684.4 844.8L684.9 828.2L685.4 844.4L686.0 834.9L686.5 843.6L687.0 829.8L687.6 843.9L688.1 834.8L688.6 843.7L689.2 835.1L689.7 844.5L690.2 835.7L690.7 844.5L691.3 836.1L691.8 844.6L692.3 835.1L692.9 845.7L693.4 834.6L693.9 844.4L694.5 829.1L695.0 844.4L695.5 835.2L696.1 845.3L696.5 834.6L697.0 843.6L697.5 834.6L698.1 842.6L698.6 835.9L699.1 842.2L699.7 835.1L700.2 843.6L700.7 830.5L701.3 843.6L701.8 835.4L702.3 847.4L702.9 835.6L703.4 843.3L703.9 835.5L704.4 844.0L705.0 835.4L705.5 844.4L706.0 835.8L706.6 843.4L707.1 836.7L707.6 849.3L708.2 835.2L708.7 844.8L709.2 834.9L709.7 844.6L710.3 833.9L710.8 845.0L711.3 834.2L711.9 845.0L712.4 834.1L712.9 845.4L713.5 829.9L714.0 844.2L714.5 836.7L715.1 843.5L715.6 836.5L716.1 843.9L716.6 835.3L717.2 844.3L717.7 830.7L718.2 844.4L718.8 835.6L719.3 843.0L719.8 835.6L720.4 843.5L720.9 835.6L721.4 843.3L721.9 836.7L722.5 843.2L723.0 836.3L723.5 844.5L724.1 835.9L724.6 845.1L725.1 835.8L725.7 845.1L726.2 835.8L726.7 845.8L727.2 835.2L727.8 845.3L728.3 835.3L728.8 844.6L729.4 835.1L729.9 845.3L730.4 834.6L731.0 846.1L731.5 835.7L732.0 844.6L732.6 836.6L733.1 844.6L733.6 836.2L734.1 843.9L734.7 836.5L735.2 844.1L735.7 828.9L736.3 844.9L736.8 834.6L737.3 845.3L737.9 833.7L738.4 844.4L738.9 834.5L739.4 843.8L740.0 835.0L740.5 844.4L741.0 835.3L741.6 845.6L742.1 835.1L742.6 844.6L743.2 836.5L743.7 844.1L744.2 834.6L744.8 844.8L745.3 834.4L745.8 843.8L746.3 835.2L746.9 844.5L747.4 834.9L747.9 844.2L748.5 835.4L749.0 844.4L749.5 834.7L750.1 844.7L750.6 836.4L751.1 844.6L751.6 835.8L752.2 844.8L752.7 835.3L753.2 843.8L753.8 835.3L754.3 849.5L754.8 835.2L755.4 843.8L755.9 834.6L756.4 843.6L757.0 835.8L757.5 842.8L758.0 835.8L758.5 842.8L759.1 835.0L759.6 843.4L760.1 834.5L760.7 842.6L761.2 834.7L761.7 842.7L762.3 834.7L762.8 848.8L763.3 834.4L763.8 843.4L764.4 833.5L764.9 845.2L765.4 833.8L766.0 844.9L766.5 835.1L767.0 844.1L767.6 834.8L768.1 843.8L768.6 836.0L769.1 843.2L769.7 834.6L770.2 844.9L770.7 834.2L771.3 844.3L771.8 836.0L772.3 843.7L772.9 835.8L773.4 845.7L773.9 835.7L774.5 846.0L775.0 836.5L775.5 845.1L776.0 830.5L776.6 845.4L777.1 837.6L777.6 844.5L778.2 838.5L778.7 844.6L779.2 837.2L779.8 846.1L780.3 833.1L780.8 845.9L781.3 837.4L781.9 846.3L782.4 836.7L782.9 846.7L783.5 835.9L784.0 846.8L784.5 836.6L785.1 846.4L785.6 833.6L786.1 845.5L786.7 837.1L787.2 844.5L787.7 837.3L788.2 844.1L788.8 837.6L789.3 844.5L789.8 836.5L790.4 844.5L790.9 837.0L791.4 844.2L792.0 836.2L792.5 845.5L793.0 835.0L793.5 845.1L794.1 834.7L794.6 845.1L795.1 835.4L795.7 847.7L796.2 836.2L796.7 844.2L797.3 835.8L797.8 844.5L798.3 835.5L798.9 844.4L799.4 834.3L799.9 845.3L800.4 834.0L801.0 844.1L801.5 830.0L802.0 842.6L802.6 835.9L803.1 842.2L803.6 835.5L804.2 842.7L804.7 829.7L805.2 843.0L805.7 835.4L806.3 842.9L806.8 835.5L807.3 843.5L807.9 836.5L808.4 843.0L808.9 831.7L809.5 843.4L810.0 836.6L810.5 844.9L811.0 835.2L811.6 844.7L812.1 835.8L812.6 844.8L813.2 836.1L813.7 844.8L814.2 832.1L814.8 844.5L815.3 836.7L815.8 848.9L816.4 837.1L816.9 844.4L817.4 836.4L817.9 845.1L818.5 835.6L819.0 844.7L819.5 836.1L820.1 844.7L820.6 836.2L821.1 843.5L821.7 835.8L822.2 844.1L822.7 834.8L823.2 844.2L823.8 834.9L824.3 844.5L824.8 835.9L825.4 844.4L825.9 832.5L826.4 844.4L827.0 830.1L827.5 845.2L828.0 835.0L828.6 845.5L829.1 836.0L829.6 844.0L830.1 836.2L830.7 844.1L831.2 836.5L831.7 850.9L832.3 836.2L832.8 845.0L833.3 836.1L833.9 844.7L834.4 835.6L834.9 845.7L835.4 835.6L836.0 845.0L836.5 835.7L837.0 844.8L837.6 836.3L838.1 843.7L838.6 835.8L839.2 843.8L839.7 830.6L840.2 843.1L840.8 835.5L841.3 843.2L841.8 835.5L842.3 843.9L842.9 835.5L843.4 844.0L843.9 836.1L844.5 843.6L845.0 836.5L845.5 843.3L846.1 835.4L846.6 848.4L847.1 835.6L847.6 843.6L848.2 835.0L848.7 843.8L849.2 835.5L849.8 843.8L850.3 835.5L850.8 844.2L851.4 835.9L851.9 843.4L852.4 836.7L852.9 844.1L853.5 836.2L854.0 844.5L854.5 835.4L855.1 843.9L855.6 835.3L856.1 844.4L856.7 834.7L857.2 843.7L857.7 830.7L858.3 842.6L858.8 836.6L859.3 842.8L859.8 835.7L860.4 843.0L860.9 835.6L861.4 848.1L862.0 834.8L862.5 843.7L863.0 834.3L863.6 843.5L864.1 834.1L864.6 844.1L865.1 834.9L865.7 842.6L867.2 839.7L868.6 842.0L871.2 776.9L876.4 851.1L884.5 801.9L892.7 853.0L900.9 820.1L907.7 853.0L917.3 827.4L923.1 846.6L923.1 844.4L923.6 847.3L924.2 842.7L924.7 846.1L925.2 840.4L925.8 847.1L926.3 838.4L926.8 844.3L927.3 836.7L927.9 844.6L928.4 835.6L928.9 841.1L929.5 833.7L930.0 840.1L930.5 832.6L931.1 837.6L931.6 831.7L932.1 836.0L932.7 829.6L933.2 834.7L933.7 828.0L934.2 833.5L934.8 826.2L935.3 833.2L935.8 825.9L936.4 833.7L936.9 827.5L937.4 835.7L938.0 830.4L938.5 838.3L939.0 832.7L939.5 841.3L940.1 834.1L940.6 842.3L941.1 836.6L941.4 839.3L941.4 835.4L942.0 843.3L942.5 834.8L943.0 843.2L943.5 835.7L944.1 843.5L944.6 835.5L945.1 843.5L945.7 835.3L946.2 844.4L946.7 835.6L947.3 843.3L947.8 836.6L948.3 843.2L948.9 835.8L949.4 843.8L949.9 836.5L950.4 842.6L951.0 836.0L951.5 843.4L952.0 832.8L952.6 843.3L953.1 836.4L953.6 843.2L954.2 833.0L954.7 843.7L955.2 836.2L955.7 842.9L956.3 833.9L956.8 846.7L957.3 835.3L957.9 844.1L958.4 835.7L958.9 845.7L959.5 835.9L960.0 843.5L960.5 835.4L961.1 843.6L961.6 836.0L962.1 843.0L962.6 836.5L963.2 843.4L963.7 836.7L964.2 843.5L964.8 836.9L965.3 843.6L965.8 836.6L966.4 844.2L966.9 836.2L967.4 843.2L967.9 837.1L968.5 843.6L969.0 835.0L969.5 843.9L970.1 836.7L970.6 843.1L971.1 833.6L971.7 843.6L972.2 836.4L972.7 843.7L973.3 836.6L973.8 843.3L974.3 836.4L974.8 843.7L975.4 836.0L975.9 843.3L976.4 836.6L977.0 843.5L977.5 835.7L978.0 843.7L978.6 836.1L979.1 842.9L979.6 837.1L980.1 842.7L980.7 837.7L981.2 842.9L981.7 837.4L982.3 843.3L982.8 836.7L983.3 843.5L983.9 836.0L984.4 843.5L984.9 836.3L985.4 843.0L986.0 836.1L986.5 844.1L987.0 836.0L987.6 843.5L988.1 836.1L988.6 844.3L989.2 835.7L989.7 844.6L990.2 836.0L990.8 843.7L991.3 836.7L991.8 843.8L992.3 836.6L992.9 843.0L993.4 837.4L993.9 842.1L994.5 837.3L995.0 842.7L995.5 836.6L996.1 842.8L996.6 836.7L997.1 843.5L997.6 836.9L998.2 843.7L998.7 837.0L999.2 843.9L999.8 836.5L1000.3 843.5L1000.8 836.7L1001.4 843.4L1001.9 836.2L1002.4 843.3L1003.0 837.4L1003.5 842.5L1004.0 837.5L1004.5 843.0L1005.1 836.9L1005.6 843.5L1006.1 836.4L1006.7 843.8L1007.2 836.7L1007.7 844.3L1008.3 836.4L1008.8 843.9L1009.3 837.7L1009.8 842.8L1010.4 837.7L1010.9 844.1L1011.4 837.4L1012.0 843.9L1012.5 837.8L1013.0 844.5L1013.6 837.6L1014.1 844.3L1014.6 838.1L1015.2 843.9L1015.7 837.7L1016.2 843.7L1016.7 837.5L1017.3 844.6L1017.8 837.7L1018.3 843.8L1018.9 838.6L1019.4 844.8L1019.9 838.1L1020.5 844.6L1021.0 838.4L1021.5 845.3L1022.0 837.7L1022.6 845.4L1023.1 837.8L1023.6 845.6L1024.2 837.0L1024.7 845.1L1025.2 837.5L1025.8 843.9L1026.3 837.3L1026.8 843.8L1027.3 837.4L1027.9 843.9L1028.4 837.0L1028.9 844.1L1029.5 837.3L1030.0 846.0L1030.5 837.4L1031.1 843.8L1031.6 836.7L1032.1 844.0L1032.7 836.7L1033.2 843.1L1033.7 836.2L1034.2 843.5L1034.8 836.4L1035.3 842.7L1035.8 836.8L1036.4 842.7L1036.9 836.8L1037.4 842.9L1038.0 836.3L1038.5 843.4L1039.0 837.0L1039.5 843.3L1040.1 836.7L1040.6 843.8L1041.1 836.7L1041.7 843.0L1042.2 836.8L1042.7 843.1L1043.3 836.6L1043.8 842.8L1044.3 836.5L1044.9 843.2L1045.4 836.3L1045.9 843.5L1046.4 836.6L1047.0 843.3L1047.5 837.0L1048.0 842.7L1048.6 836.6L1049.1 842.9L1049.6 836.4L1050.2 843.0L1050.7 833.9L1051.2 846.3L1051.7 836.5L1052.3 843.3L1052.8 836.6L1053.3 843.1L1053.9 837.0L1054.4 842.7L1054.9 836.2L1055.5 842.9L1056.0 837.2L1056.5 842.4L1057.1 836.8L1057.6 843.8L1058.1 836.4L1058.6 843.6L1059.2 836.6L1059.7 843.9L1060.2 836.6L1060.8 842.9L1061.3 837.1L1061.8 843.2L1062.4 836.9L1062.9 842.9L1062.9 840.5L1062.9 837.9L1063.5 842.4L1064.0 837.2L1064.5 842.5L1065.1 838.0L1065.6 842.7L1066.1 837.5L1066.6 842.6L1067.2 837.6L1067.7 842.5L1068.2 837.4L1068.8 843.0L1069.3 837.0L1069.8 843.2L1070.4 836.9L1070.9 842.5L1071.4 837.3L1071.9 842.3L1072.5 836.5L1073.0 842.3L1073.5 837.6L1074.1 842.2L1074.6 837.5L1075.1 842.6L1075.7 837.5L1076.2 842.6L1076.7 837.3L1077.3 842.5L1077.8 837.7L1078.3 842.0L1078.8 837.2L1079.4 842.8L1079.9 837.2L1080.4 843.2L1081.0 837.4L1081.5 843.0L1082.0 837.6L1082.6 842.5L1083.1 837.7L1083.6 842.4L1084.1 838.0L1084.7 842.0L1085.2 837.9L1085.7 842.6L1086.3 837.3L1086.8 843.2L1087.3 837.0L1087.9 843.2L1088.4 837.0L1088.9 842.5L1089.5 837.9L1090.0 842.5L1090.5 837.6L1091.0 842.7L1091.6 837.9L1092.1 842.7L1092.6 837.8L1093.2 843.0L1093.7 837.6L1094.2 843.0L1094.8 837.7L1095.3 844.2L1095.8 838.0L1096.3 842.6L1096.9 838.3L1097.4 843.0L1097.9 838.4L1098.5 842.8L1099.0 838.7L1099.5 842.7L1100.1 838.7L1100.6 842.8L1101.1 838.2L1101.7 843.5L1102.2 837.8L1102.7 842.8L1103.2 838.5L1103.8 843.9L1104.3 838.0L1104.8 843.6L1105.4 838.3L1105.9 843.4L1106.4 838.1L1107.0 843.5L1107.5 838.2L1108.0 843.0L1108.5 838.3L1109.1 843.0L1109.6 838.9L1110.1 842.6L1110.7 839.1L1111.2 842.7L1111.7 838.7L1112.3 843.3L1112.8 838.5L1113.3 843.5L1113.9 838.6L1114.4 843.3L1114.9 838.7L1115.4 843.0L1116.0 838.8L1116.5 843.7L1117.0 837.6L1117.6 843.5L1118.1 838.2L1118.6 842.9L1119.2 838.0L1119.7 842.7L1120.2 837.9L1120.7 842.7L1121.3 837.8L1121.8 842.5L1122.3 837.5L1122.9 842.3L1123.4 838.2L1123.9 842.3L1124.5 837.9L1125.0 842.8L1125.5 838.3L1126.0 842.6L1126.6 838.2L1127.1 842.7L1127.6 838.2L1128.2 842.6L1128.7 838.2L1129.2 842.4L1129.8 837.9L1130.3 843.0L1130.8 837.9L1131.4 843.3L1131.9 837.5L1132.4 843.0L1132.9 838.1L1133.5 843.0L1134.0 837.2L1134.5 843.2L1135.1 837.7L1135.6 843.0L1136.1 837.6L1136.7 843.2L1137.2 837.6L1137.7 843.0L1138.2 836.4L1138.8 843.4L1139.3 837.6L1139.8 843.1L1140.4 837.5L1140.9 843.2L1141.4 838.0L1142.0 843.3L1142.5 837.8L1143.0 843.0L1143.6 837.7L1144.1 842.5L1144.6 837.9L1145.1 841.6L1145.7 837.9L1146.2 842.0L1146.7 838.0L1147.3 843.1L1147.8 837.5L1148.3 842.2L1148.9 837.5L1149.4 841.9L1149.9 838.1L1150.4 842.5L1151.0 837.9L1151.5 842.6L1152.0 838.3L1152.6 842.2L1153.1 838.2L1153.6 842.5L1154.2 838.1L1154.7 842.4L1155.2 837.8L1155.8 842.7L1156.3 838.6L1156.8 842.9L1157.3 838.3L1157.9 843.4L1158.4 838.1L1158.9 844.0L1159.5 837.8L1160.0 844.1L1160.5 838.4L1161.1 843.8L1161.6 839.1L1162.1 843.5L1162.6 839.2L1163.2 843.8L1163.7 838.9L1164.2 843.5L1164.8 838.8L1165.3 843.6L1165.8 839.0L1166.4 843.6L1166.9 838.8L1167.4 843.9L1167.9 838.4L1168.5 843.7L1169.0 838.4L1169.5 843.2L1170.1 838.0L1170.6 843.3L1171.1 837.8L1171.7 843.2L1172.2 838.1L1172.7 842.2L1173.3 838.7L1173.8 842.5L1174.3 838.4L1174.8 842.6L1175.4 838.1L1175.9 842.8L1176.4 837.9L1177.0 842.3L1177.5 838.4L1178.0 842.5L1178.6 838.2L1179.1 843.0L1179.6 838.0L1180.1 842.7L1180.7 838.2L1181.2 842.8L1181.7 838.1L1182.3 842.7L1182.8 838.4L1183.3 842.8L1183.9 838.6L1184.4 843.2L1184.9 838.0L1185.5 843.5L1186.0 838.3L1186.5 842.7L1187.0 838.0L1187.6 843.0L1188.1 837.9L1188.6 842.8L1189.2 838.5L1189.7 842.9L1190.2 838.4L1190.8 843.0L1191.3 838.1L1191.8 843.4L1192.3 838.0L1192.9 843.3L1193.4 838.4L1193.9 842.9L1194.5 838.7L1195.0 843.2L1195.5 838.7L1196.1 842.9L1196.6 838.7L1197.1 843.5L1197.7 838.7L1198.2 843.4L1198.7 839.0L1199.2 843.6L1199.8 838.9L1200.3 843.3L1200.8 839.2L1201.4 843.3L1201.9 839.1L1202.4 843.6L1203.0 839.1L1203.5 843.5L1204.0 839.5L1204.5 845.0L1205.1 839.3L1205.6 843.5L1206.1 839.5L1206.7 843.7L1207.2 839.2L1207.7 844.1L1208.3 838.5L1208.8 844.1L1209.3 838.8L1209.8 843.2L1210.4 839.5L1210.9 842.7L1211.4 839.2L1212.0 844.5L1212.5 838.8L1213.0 843.5L1213.6 839.0L1214.1 843.7L1214.6 839.1L1215.2 843.4L1215.7 839.1L1216.2 844.1L1216.7 838.6L1217.3 844.8L1217.8 839.2L1218.3 843.9L1218.9 839.2L1219.4 843.9L1219.9 839.4L1220.5 843.4L1221.0 839.9L1221.5 843.5L1222.0 838.8L1222.6 843.9L1223.1 839.4L1223.6 843.1L1224.2 839.5L1224.7 845.4L1225.2 838.8L1225.8 843.2L1226.3 839.0L1226.8 843.3L1227.4 838.3L1227.9 844.0L1228.4 838.5L1228.9 843.1L1229.5 838.5L1230.0 842.6L1230.5 838.2L1231.1 842.8L1231.6 837.9L1232.1 842.5L1232.7 837.8L1233.2 842.5L1233.7 838.0L1234.2 842.4L1234.8 838.3L1235.3 842.9L1235.8 838.1L1236.4 843.3L1236.9 838.1L1237.4 843.1L1238.0 838.6L1238.5 842.7L1239.0 839.4L1239.6 843.0L1240.1 839.1L1240.6 843.6L1241.1 838.7L1241.7 844.1L1242.2 839.0L1242.7 843.5L1243.3 839.6L1243.8 843.7L1244.3 839.4L1244.9 844.1L1245.4 839.3L1245.9 843.9L1246.4 839.2L1247.0 844.2L1247.5 839.0L1248.0 843.9L1248.6 839.3L1249.1 844.2L1249.6 838.9L1250.2 844.0L1250.7 838.7L1251.2 843.8L1251.7 838.9L1252.3 843.4L1252.8 838.9L1253.3 843.0L1253.9 839.1L1254.4 842.8L1255.8 840.7" stroke="#0000ff" stroke-width="4.4" fill="none" stroke-linejoin="round" stroke-linecap="butt"/></g></g>
<text x="98.60" y="923.30" font-size="28.7" text-anchor="middle">0</text>
<text x="291.47" y="923.30" font-size="28.7" text-anchor="middle">20</text>
<text x="484.33" y="923.30" font-size="28.7" text-anchor="middle">40</text>
<text x="677.20" y="923.30" font-size="28.7" text-anchor="middle">60</text>
<text x="870.07" y="923.30" font-size="28.7" text-anchor="middle">80</text>
<text x="1062.93" y="923.30" font-size="28.7" text-anchor="middle">100</text>
<text x="1255.80" y="923.30" font-size="28.7" text-anchor="middle">120</text>
<text x="90.5" y="899.90" font-size="28.7" text-anchor="end">0</text>
<text x="90.5" y="853.60" font-size="28.7" text-anchor="end">0.5</text>
<text x="90.5" y="807.50" font-size="28.7" text-anchor="end">1</text>
<text x="90.5" y="761.20" font-size="28.7" text-anchor="end">1.5</text>
<text x="679.00" y="961.20" font-size="32.5" text-anchor="middle">Time (s)</text>
<g transform="translate(27.5 861.20) rotate(-90)"><text x="4" y="0" font-size="25" style="font-family:'DejaVu Serif',serif;fill:#999">&#964;</text><text x="15.5" y="14.4" font-size="23">d</text><text x="38" y="0" font-size="32.5">(m)</text></g>
</g></svg></body></html>
